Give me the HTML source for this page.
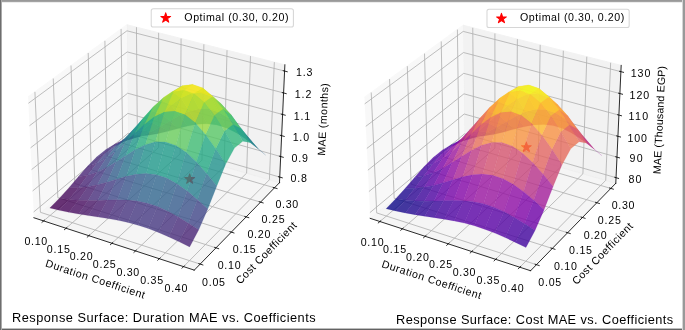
<!DOCTYPE html>
<html><head><meta charset="utf-8"><title>Response Surfaces</title>
<style>
html,body{margin:0;padding:0;background:#fff;}
body{width:685px;height:330px;overflow:hidden;position:relative;font-family:"Liberation Sans",sans-serif;}
#fig{position:absolute;left:0;top:0;width:685px;height:330px;will-change:transform;}
#fig text{font-family:"Liberation Sans",sans-serif;fill:#000;}
.b{position:absolute;}
</style></head><body>
<svg id="fig" width="685" height="330" viewBox="0 0 662.013423 318.926174" preserveAspectRatio="none">
<defs>
  <style type="text/css">*{stroke-linejoin: round; stroke-linecap: butt}</style>
 </defs>
 <g id="figure_1">
  <g id="patch_1">
   <path d="M 0 318.926174 
L 662.013423 318.926174 
L 662.013423 0 
L 0 0 
z
" style="fill: #ffffff"/>
  </g>
  <g id="patch_2">
   <path d="M 11.93557 278.480537 
L 287.855034 278.480537 
L 287.855034 2.561074 
L 11.93557 2.561074 
z
" style="fill: #ffffff"/>
  </g>
  <g id="pane3d_1">
   <g id="patch_3">
    <path d="M 32.769393 210.44764 
L 123.887011 134.071046 
L 122.620388 23.922344 
L 27.142323 93.597887 
" style="fill: #f2f2f2; opacity: 0.5; stroke: #f2f2f2; stroke-linejoin: miter"/>
   </g>
  </g>
  <g id="pane3d_2">
   <g id="patch_4">
    <path d="M 123.887011 134.071046 
L 270.098276 176.568888 
L 275.316041 62.626241 
L 122.620388 23.922344 
" style="fill: #e6e6e6; opacity: 0.5; stroke: #e6e6e6; stroke-linejoin: miter"/>
   </g>
  </g>
  <g id="pane3d_3">
   <g id="patch_5">
    <path d="M 32.769393 210.44764 
L 187.760476 261.067727 
L 270.098276 176.568888 
L 123.887011 134.071046 
" style="fill: #ececec; opacity: 0.5; stroke: #ececec; stroke-linejoin: miter"/>
   </g>
  </g>
  <g id="grid3d_1">
   <g id="Line3DCollection_1">
    <path d="M 42.156466 213.513458 
L 132.779132 136.655634 
L 131.888476 26.271534 
" style="fill: none; stroke: #b0b0b0; stroke-width: 0.8"/>
    <path d="M 63.845604 220.597131 
L 153.306457 142.622117 
L 153.292793 31.696904 
" style="fill: none; stroke: #b0b0b0; stroke-width: 0.8"/>
    <path d="M 85.86489 227.788629 
L 174.120278 148.671874 
L 175.008798 37.201279 
" style="fill: none; stroke: #b0b0b0; stroke-width: 0.8"/>
    <path d="M 108.221917 235.090434 
L 195.226637 154.806659 
L 197.043348 42.786395 
" style="fill: none; stroke: #b0b0b0; stroke-width: 0.8"/>
    <path d="M 130.924518 242.505104 
L 216.631743 161.028278 
L 219.403505 48.454042 
" style="fill: none; stroke: #b0b0b0; stroke-width: 0.8"/>
    <path d="M 153.980767 250.035274 
L 238.341985 167.338588 
L 242.096538 54.206065 
" style="fill: none; stroke: #b0b0b0; stroke-width: 0.8"/>
    <path d="M 177.398992 257.683667 
L 260.363935 173.7395 
L 265.129937 60.04436 
" style="fill: none; stroke: #b0b0b0; stroke-width: 0.8"/>
   </g>
  </g>
  <g id="grid3d_2">
   <g id="Line3DCollection_2">
    <path d="M 33.744868 88.779651 
L 39.048167 205.184647 
L 193.457614 255.221062 
" style="fill: none; stroke: #b0b0b0; stroke-width: 0.8"/>
    <path d="M 51.461748 75.850679 
L 55.912539 191.048596 
L 208.742574 239.534932 
" style="fill: none; stroke: #b0b0b0; stroke-width: 0.8"/>
    <path d="M 68.624006 63.326444 
L 72.271633 177.336078 
L 223.545701 224.343282 
" style="fill: none; stroke: #b0b0b0; stroke-width: 0.8"/>
    <path d="M 85.257286 51.188234 
L 88.147822 164.028342 
L 237.889426 209.623093 
" style="fill: none; stroke: #b0b0b0; stroke-width: 0.8"/>
    <path d="M 101.385673 39.418472 
L 103.562178 151.107724 
L 251.794806 195.352751 
" style="fill: none; stroke: #b0b0b0; stroke-width: 0.8"/>
    <path d="M 117.03181 28.000634 
L 118.534562 138.557574 
L 265.281634 181.511948 
" style="fill: none; stroke: #b0b0b0; stroke-width: 0.8"/>
   </g>
  </g>
  <g id="grid3d_3">
   <g id="Line3DCollection_3">
    <path d="M 270.346384 171.150857 
L 123.826661 128.822877 
L 32.502252 204.900291 
" style="fill: none; stroke: #b0b0b0; stroke-width: 0.8"/>
    <path d="M 271.255616 151.295552 
L 123.605602 109.599074 
L 31.522903 184.563477 
" style="fill: none; stroke: #b0b0b0; stroke-width: 0.8"/>
    <path d="M 272.179124 131.128484 
L 123.38124 90.087906 
L 30.527588 163.89511 
" style="fill: none; stroke: #b0b0b0; stroke-width: 0.8"/>
    <path d="M 273.117248 110.642253 
L 123.153498 70.282881 
L 29.515912 142.887013 
" style="fill: none; stroke: #b0b0b0; stroke-width: 0.8"/>
    <path d="M 274.070337 89.829223 
L 122.9223 50.177311 
L 28.48747 121.530743 
" style="fill: none; stroke: #b0b0b0; stroke-width: 0.8"/>
    <path d="M 275.038753 68.681509 
L 122.687566 29.764301 
L 27.441841 99.81757 
" style="fill: none; stroke: #b0b0b0; stroke-width: 0.8"/>
   </g>
  </g>
  <g id="axis3d_1">
   <g id="line2d_1">
    <path d="M 32.769393 210.44764 
L 187.760476 261.067727 
" style="fill: none; stroke: #000000; stroke-width: 0.8; stroke-linecap: square"/>
   </g>
   <g id="xtick_1">
    <g id="line2d_2">
     <path d="M 42.945603 212.844184 
L 40.574806 214.854877 
" style="fill: none; stroke: #000000; stroke-width: 0.8; stroke-linecap: square"/>
    </g>
    <g id="text_1">
     <text style="font-size:10.300px;text-anchor:middle" x="34.628411" y="236.820531" transform="rotate(-0 34.628411 236.820531)" textLength="22.125" lengthAdjust="spacing">0.10</text>
    </g>
   </g>
   <g id="xtick_2">
    <g id="line2d_3">
     <path d="M 64.625103 219.917712 
L 62.283238 221.958905 
" style="fill: none; stroke: #000000; stroke-width: 0.8; stroke-linecap: square"/>
    </g>
    <g id="text_2">
     <text style="font-size:10.300px;text-anchor:middle" x="56.33882" y="244.048871" transform="rotate(-0 56.33882 244.048871)" textLength="22.250" lengthAdjust="spacing">0.15</text>
    </g>
   </g>
   <g id="xtick_3">
    <g id="line2d_4">
     <path d="M 86.634363 227.098833 
L 84.322591 229.171226 
" style="fill: none; stroke: #000000; stroke-width: 0.8; stroke-linecap: square"/>
    </g>
    <g id="text_3">
     <text style="font-size:10.300px;text-anchor:middle" x="78.380901" y="251.387639" transform="rotate(-0 78.380901 251.387639)" textLength="22.125" lengthAdjust="spacing">0.20</text>
    </g>
   </g>
   <g id="xtick_4">
    <g id="line2d_5">
     <path d="M 108.980965 234.390021 
L 106.700488 236.494336 
" style="fill: none; stroke: #000000; stroke-width: 0.8; stroke-linecap: square"/>
    </g>
    <g id="text_4">
     <text style="font-size:10.300px;text-anchor:middle" x="100.762314" y="258.839385" transform="rotate(-0 100.762314 258.839385)" textLength="22.250" lengthAdjust="spacing">0.25</text>
    </g>
   </g>
   <g id="xtick_5">
    <g id="line2d_6">
     <path d="M 131.672726 241.793826 
L 129.424792 243.930805 
" style="fill: none; stroke: #000000; stroke-width: 0.8; stroke-linecap: square"/>
    </g>
    <g id="text_5">
     <text style="font-size:10.300px;text-anchor:middle" x="123.490957" y="266.406739" transform="rotate(-0 123.490957 266.406739)" textLength="22.000" lengthAdjust="spacing">0.30</text>
    </g>
   </g>
   <g id="xtick_6">
    <g id="line2d_7">
     <path d="M 154.717704 249.312878 
L 152.503608 251.483288 
" style="fill: none; stroke: #000000; stroke-width: 0.8; stroke-linecap: square"/>
    </g>
    <g id="text_6">
     <text style="font-size:10.300px;text-anchor:middle" x="146.574972" y="274.092412" transform="rotate(-0 146.574972 274.092412)" textLength="22.125" lengthAdjust="spacing">0.35</text>
    </g>
   </g>
   <g id="xtick_7">
    <g id="line2d_8">
     <path d="M 178.12421 256.949889 
L 175.945297 259.15452 
" style="fill: none; stroke: #000000; stroke-width: 0.8; stroke-linecap: square"/>
    </g>
    <g id="text_7">
     <text style="font-size:10.300px;text-anchor:middle" x="170.022759" y="281.899201" transform="rotate(-0 170.022759 281.899201)" textLength="22.000" lengthAdjust="spacing">0.40</text>
    </g>
   </g>
   <g id="text_8">
    <text style="font-size:10.300px;text-anchor:middle" x="91.078592" y="272.97508" transform="rotate(-341.912962 91.078592 272.97508)" textLength="100.500" lengthAdjust="spacing">Duration Coefficient</text>
   </g>
  </g>
  <g id="axis3d_2">
   <g id="line2d_9">
    <path d="M 270.098276 176.568888 
L 187.760476 261.067727 
" style="fill: none; stroke: #000000; stroke-width: 0.8; stroke-linecap: square"/>
   </g>
   <g id="xtick_8">
    <g id="line2d_10">
     <path d="M 192.156401 254.799403 
L 196.063405 256.065469 
" style="fill: none; stroke: #000000; stroke-width: 0.8; stroke-linecap: square"/>
    </g>
    <g id="text_9">
     <text style="font-size:10.300px;text-anchor:middle" x="206.337974" y="276.242506" transform="rotate(-0 206.337974 276.242506)" textLength="22.125" lengthAdjust="spacing">0.05</text>
    </g>
   </g>
   <g id="xtick_9">
    <g id="line2d_11">
     <path d="M 207.455715 239.126668 
L 211.319566 240.3525 
" style="fill: none; stroke: #000000; stroke-width: 0.8; stroke-linecap: square"/>
    </g>
    <g id="text_10">
     <text style="font-size:10.300px;text-anchor:middle" x="221.425235" y="260.332384" transform="rotate(-0 221.425235 260.332384)" textLength="22.125" lengthAdjust="spacing">0.10</text>
    </g>
   </g>
   <g id="xtick_10">
    <g id="line2d_12">
     <path d="M 222.272946 223.947784 
L 226.0944 225.13527 
" style="fill: none; stroke: #000000; stroke-width: 0.8; stroke-linecap: square"/>
    </g>
    <g id="text_11">
     <text style="font-size:10.300px;text-anchor:middle" x="236.03663" y="244.924083" transform="rotate(-0 236.03663 244.924083)" textLength="22.250" lengthAdjust="spacing">0.15</text>
    </g>
   </g>
   <g id="xtick_11">
    <g id="line2d_13">
     <path d="M 236.630524 209.23977 
L 240.410333 210.390682 
" style="fill: none; stroke: #000000; stroke-width: 0.8; stroke-linecap: square"/>
    </g>
    <g id="text_12">
     <text style="font-size:10.300px;text-anchor:middle" x="250.194322" y="229.99423" transform="rotate(-0 250.194322 229.99423)" textLength="22.125" lengthAdjust="spacing">0.20</text>
    </g>
   </g>
   <g id="xtick_12">
    <g id="line2d_14">
     <path d="M 250.549513 194.981051 
L 254.288417 196.097053 
" style="fill: none; stroke: #000000; stroke-width: 0.8; stroke-linecap: square"/>
    </g>
    <g id="text_13">
     <text style="font-size:10.300px;text-anchor:middle" x="263.919121" y="215.520879" transform="rotate(-0 263.919121 215.520879)" textLength="22.250" lengthAdjust="spacing">0.25</text>
    </g>
   </g>
   <g id="xtick_13">
    <g id="line2d_15">
     <path d="M 264.049706 181.15135 
L 267.748437 182.234006 
" style="fill: none; stroke: #000000; stroke-width: 0.8; stroke-linecap: square"/>
    </g>
    <g id="text_14">
     <text style="font-size:10.300px;text-anchor:middle" x="277.230582" y="201.48341" transform="rotate(-0 277.230582 201.48341)" textLength="22.000" lengthAdjust="spacing">0.30</text>
    </g>
   </g>
   <g id="text_15">
    <text style="font-size:10.300px;text-anchor:middle" x="259.717958" y="246.862403" transform="rotate(-45.742112 259.717958 246.862403)" textLength="79.000" lengthAdjust="spacing">Cost Coefficient</text>
   </g>
  </g>
  <g id="axis3d_3">
   <g id="line2d_16">
    <path d="M 270.098276 176.568888 
L 275.316041 62.626241 
" style="fill: none; stroke: #000000; stroke-width: 0.8; stroke-linecap: square"/>
   </g>
   <g id="xtick_14">
    <g id="line2d_17">
     <path d="M 269.116557 170.795573 
L 272.808968 171.862271 
" style="fill: none; stroke: #000000; stroke-width: 0.8; stroke-linecap: square"/>
    </g>
    <g id="text_16">
     <text style="font-size:10.300px;text-anchor:middle" x="288.635013" y="176.154188" transform="rotate(-0 288.635013 176.154188)" textLength="15.750" lengthAdjust="spacing">0.8</text>
    </g>
   </g>
   <g id="xtick_15">
    <g id="line2d_18">
     <path d="M 270.015849 150.945441 
L 273.738126 151.996614 
" style="fill: none; stroke: #000000; stroke-width: 0.8; stroke-linecap: square"/>
    </g>
    <g id="text_17">
     <text style="font-size:10.300px;text-anchor:middle" x="289.683636" y="156.336716" transform="rotate(-0 289.683636 156.336716)" textLength="15.875" lengthAdjust="spacing">0.9</text>
    </g>
   </g>
   <g id="xtick_16">
    <g id="line2d_19">
     <path d="M 270.929257 130.783752 
L 274.681886 131.818781 
" style="fill: none; stroke: #000000; stroke-width: 0.8; stroke-linecap: square"/>
    </g>
    <g id="text_18">
     <text style="font-size:10.300px;text-anchor:middle" x="290.748676" y="136.208992" transform="rotate(-0 290.748676 136.208992)" textLength="15.875" lengthAdjust="spacing">1.0</text>
    </g>
   </g>
   <g id="xtick_17">
    <g id="line2d_20">
     <path d="M 271.857113 110.303116 
L 275.640593 111.321355 
" style="fill: none; stroke: #000000; stroke-width: 0.8; stroke-linecap: square"/>
    </g>
    <g id="text_19">
     <text style="font-size:10.300px;text-anchor:middle" x="291.830521" y="115.763672" transform="rotate(-0 291.830521 115.763672)" textLength="16.000" lengthAdjust="spacing">1.1</text>
    </g>
   </g>
   <g id="xtick_18">
    <g id="line2d_21">
     <path d="M 272.799765 89.495903 
L 276.614606 90.496682 
" style="fill: none; stroke: #000000; stroke-width: 0.8; stroke-linecap: square"/>
    </g>
    <g id="text_20">
     <text style="font-size:10.300px;text-anchor:middle" x="292.929573" y="94.993181" transform="rotate(-0 292.929573 94.993181)" textLength="16.000" lengthAdjust="spacing">1.2</text>
    </g>
   </g>
   <g id="xtick_19">
    <g id="line2d_22">
     <path d="M 273.757569 68.354239 
L 277.604295 69.336862 
" style="fill: none; stroke: #000000; stroke-width: 0.8; stroke-linecap: square"/>
    </g>
    <g id="text_21">
     <text style="font-size:10.300px;text-anchor:middle" x="294.046244" y="73.889697" transform="rotate(-0 294.046244 73.889697)" textLength="15.875" lengthAdjust="spacing">1.3</text>
    </g>
   </g>
   <g id="text_22">
    <text style="font-size:10.300px;text-anchor:middle" x="315.791818" y="115.561315" transform="rotate(-87.378092 315.791818 115.561315)" textLength="70.125" lengthAdjust="spacing">MAE (months)</text>
   </g>
  </g>
  <g id="axes_1">
   <g id="Path3DCollection_1">
    <defs>
     <path id="m5a079813dc" d="M 0 -5 
L -1.12257 -1.545085 
L -4.755283 -1.545085 
L -1.816356 0.59017 
L -2.938926 4.045085 
L -0 1.90983 
L 2.938926 4.045085 
L 1.816356 0.59017 
L 4.755283 -1.545085 
L 1.12257 -1.545085 
z
" style="stroke: #ff0000"/>
    </defs>
    <g clip-path="url(#pc251fb903a)">
     <use href="#m5a079813dc" x="183.303046" y="173.089933" style="fill: #ff0000; stroke: #ff0000"/>
    </g>
   </g>
   <g id="Poly3DCollection_1">
    <path d="M 119.066355 135.212549 
L 127.910367 133.840768 
L 136.164777 131.09459 
L 127.35445 131.052434 
z
" clip-path="url(#pc251fb903a)" style="fill:#481467;fill-opacity:0.8;stroke:#481467;stroke-opacity:0.25;stroke-width:0.5"/>
    <path d="M 127.910367 133.840768 
L 136.827197 131.213919 
L 145.042545 130.350816 
L 136.164777 131.09459 
z
" clip-path="url(#pc251fb903a)" style="fill:#482374;fill-opacity:0.8;stroke:#482374;stroke-opacity:0.25;stroke-width:0.5"/>
    <path d="M 136.827197 131.213919 
L 145.830976 127.34379 
L 153.996747 128.832223 
L 145.042545 130.350816 
z
" clip-path="url(#pc251fb903a)" style="fill:#46337f;fill-opacity:0.8;stroke:#46337f;stroke-opacity:0.25;stroke-width:0.5"/>
    <path d="M 110.625858 139.500631 
L 119.49434 136.718944 
L 127.910367 133.840768 
L 119.066355 135.212549 
z
" clip-path="url(#pc251fb903a)" style="fill:#482173;fill-opacity:0.8;stroke:#482173;stroke-opacity:0.25;stroke-width:0.5"/>
    <path d="M 145.830976 127.34379 
L 154.935792 122.454557 
L 163.035876 126.684564 
L 153.996747 128.832223 
z
" clip-path="url(#pc251fb903a)" style="fill:#404688;fill-opacity:0.8;stroke:#404688;stroke-opacity:0.25;stroke-width:0.5"/>
    <path d="M 119.49434 136.718944 
L 128.438014 132.208934 
L 136.827197 131.213919 
L 127.910367 133.840768 
z
" clip-path="url(#pc251fb903a)" style="fill:#463480;fill-opacity:0.8;stroke:#463480;stroke-opacity:0.25;stroke-width:0.5"/>
    <path d="M 102.046993 144.80799 
L 110.935106 141.089059 
L 119.49434 136.718944 
L 110.625858 139.500631 
z
" clip-path="url(#pc251fb903a)" style="fill:#472c7a;fill-opacity:0.8;stroke:#472c7a;stroke-opacity:0.25;stroke-width:0.5"/>
    <path d="M 154.935792 122.454557 
L 164.151785 117.019191 
L 172.165411 124.20944 
L 163.035876 126.684564 
z
" clip-path="url(#pc251fb903a)" style="fill:#38598c;fill-opacity:0.8;stroke:#38598c;stroke-opacity:0.25;stroke-width:0.5"/>
    <path d="M 128.438014 132.208934 
L 137.476248 125.978813 
L 145.830976 127.34379 
L 136.827197 131.213919 
z
" clip-path="url(#pc251fb903a)" style="fill:#3e4a89;fill-opacity:0.8;stroke:#3e4a89;stroke-opacity:0.25;stroke-width:0.5"/>
    <path d="M 110.935106 141.089059 
L 119.896353 135.319376 
L 128.438014 132.208934 
L 119.49434 136.718944 
z
" clip-path="url(#pc251fb903a)" style="fill:#414287;fill-opacity:0.8;stroke:#414287;stroke-opacity:0.25;stroke-width:0.5"/>
    <path d="M 164.151785 117.019191 
L 173.480769 111.74347 
L 181.385147 121.852025 
L 172.165411 124.20944 
z
" clip-path="url(#pc251fb903a)" style="fill:#2f6b8e;fill-opacity:0.8;stroke:#2f6b8e;stroke-opacity:0.25;stroke-width:0.5"/>
    <path d="M 137.476248 125.978813 
L 146.629392 118.326716 
L 154.935792 122.454557 
L 145.830976 127.34379 
z
" clip-path="url(#pc251fb903a)" style="fill:#33628d;fill-opacity:0.8;stroke:#33628d;stroke-opacity:0.25;stroke-width:0.5"/>
    <path d="M 93.351759 151.850044 
L 102.264172 148.045604 
L 110.935106 141.089059 
L 102.046993 144.80799 
z
" clip-path="url(#pc251fb903a)" style="fill:#472f7d;fill-opacity:0.8;stroke:#472f7d;stroke-opacity:0.25;stroke-width:0.5"/>
    <path d="M 119.896353 135.319376 
L 128.953742 127.502251 
L 137.476248 125.978813 
L 128.438014 132.208934 
z
" clip-path="url(#pc251fb903a)" style="fill:#365c8d;fill-opacity:0.8;stroke:#365c8d;stroke-opacity:0.25;stroke-width:0.5"/>
    <path d="M 173.480769 111.74347 
L 182.912838 107.48326 
L 190.687311 120.147469 
L 181.385147 121.852025 
z
" clip-path="url(#pc251fb903a)" style="fill:#297a8e;fill-opacity:0.8;stroke:#297a8e;stroke-opacity:0.25;stroke-width:0.5"/>
    <path d="M 146.629392 118.326716 
L 155.913564 109.894435 
L 164.151785 117.019191 
L 154.935792 122.454557 
z
" clip-path="url(#pc251fb903a)" style="fill:#297a8e;fill-opacity:0.8;stroke:#297a8e;stroke-opacity:0.25;stroke-width:0.5"/>
    <path d="M 102.264172 148.045604 
L 111.244004 142.147598 
L 119.896353 135.319376 
L 110.935106 141.089059 
z
" clip-path="url(#pc251fb903a)" style="fill:#3f4889;fill-opacity:0.8;stroke:#3f4889;stroke-opacity:0.25;stroke-width:0.5"/>
    <path d="M 84.555943 160.730065 
L 93.506782 157.745575 
L 102.264172 148.045604 
L 93.351759 151.850044 
z
" clip-path="url(#pc251fb903a)" style="fill:#472d7b;fill-opacity:0.8;stroke:#472d7b;stroke-opacity:0.25;stroke-width:0.5"/>
    <path d="M 182.912838 107.48326 
L 192.425574 105.10019 
L 200.056428 119.630607 
L 190.687311 120.147469 
z
" clip-path="url(#pc251fb903a)" style="fill:#24868e;fill-opacity:0.8;stroke:#24868e;stroke-opacity:0.25;stroke-width:0.5"/>
    <path d="M 128.953742 127.502251 
L 138.132654 117.983198 
L 146.629392 118.326716 
L 137.476248 125.978813 
z
" clip-path="url(#pc251fb903a)" style="fill:#2a778e;fill-opacity:0.8;stroke:#2a778e;stroke-opacity:0.25;stroke-width:0.5"/>
    <path d="M 155.913564 109.894435 
L 165.334469 101.650381 
L 173.480769 111.74347 
L 164.151785 117.019191 
z
" clip-path="url(#pc251fb903a)" style="fill:#20928c;fill-opacity:0.8;stroke:#20928c;stroke-opacity:0.25;stroke-width:0.5"/>
    <path d="M 192.425574 105.10019 
L 201.986942 105.285768 
L 209.47148 120.728249 
L 200.056428 119.630607 
z
" clip-path="url(#pc251fb903a)" style="fill:#218e8d;fill-opacity:0.8;stroke:#218e8d;stroke-opacity:0.25;stroke-width:0.5"/>
    <path d="M 111.244004 142.147598 
L 120.314916 134.158399 
L 128.953742 127.502251 
L 119.896353 135.319376 
z
" clip-path="url(#pc251fb903a)" style="fill:#33638d;fill-opacity:0.8;stroke:#33638d;stroke-opacity:0.25;stroke-width:0.5"/>
    <path d="M 93.506782 157.745575 
L 102.518353 152.922885 
L 111.244004 142.147598 
L 102.264172 148.045604 
z
" clip-path="url(#pc251fb903a)" style="fill:#414487;fill-opacity:0.8;stroke:#414487;stroke-opacity:0.25;stroke-width:0.5"/>
    <path d="M 75.656688 170.87386 
L 84.66333 169.307397 
L 93.506782 157.745575 
L 84.555943 160.730065 
z
" clip-path="url(#pc251fb903a)" style="fill:#482475;fill-opacity:0.8;stroke:#482475;stroke-opacity:0.25;stroke-width:0.5"/>
    <path d="M 201.986942 105.285768 
L 211.561658 108.403521 
L 218.910121 123.663945 
L 209.47148 120.728249 
z
" clip-path="url(#pc251fb903a)" style="fill:#21908d;fill-opacity:0.8;stroke:#21908d;stroke-opacity:0.25;stroke-width:0.5"/>
    <path d="M 138.132654 117.983198 
L 147.454859 107.516655 
L 155.913564 109.894435 
L 146.629392 118.326716 
z
" clip-path="url(#pc251fb903a)" style="fill:#1f948c;fill-opacity:0.8;stroke:#1f948c;stroke-opacity:0.25;stroke-width:0.5"/>
    <path d="M 211.561658 108.403521 
L 221.119353 114.400925 
L 228.353801 128.405349 
L 218.910121 123.663945 
z
" clip-path="url(#pc251fb903a)" style="fill:#228c8d;fill-opacity:0.8;stroke:#228c8d;stroke-opacity:0.25;stroke-width:0.5"/>
    <path d="M 165.334469 101.650381 
L 174.882186 94.779309 
L 182.912838 107.48326 
L 173.480769 111.74347 
z
" clip-path="url(#pc251fb903a)" style="fill:#22a884;fill-opacity:0.8;stroke:#22a884;stroke-opacity:0.25;stroke-width:0.5"/>
    <path d="M 120.314916 134.158399 
L 129.504176 124.429518 
L 138.132654 117.983198 
L 128.953742 127.502251 
z
" clip-path="url(#pc251fb903a)" style="fill:#26818e;fill-opacity:0.8;stroke:#26818e;stroke-opacity:0.25;stroke-width:0.5"/>
    <path d="M 221.119353 114.400925 
L 230.641867 122.822277 
L 237.792212 134.671945 
L 228.353801 128.405349 
z
" clip-path="url(#pc251fb903a)" style="fill:#26828e;fill-opacity:0.8;stroke:#26828e;stroke-opacity:0.25;stroke-width:0.5"/>
    <path d="M 102.518353 152.922885 
L 111.611766 146.268432 
L 120.314916 134.158399 
L 111.244004 142.147598 
z
" clip-path="url(#pc251fb903a)" style="fill:#355f8d;fill-opacity:0.8;stroke:#355f8d;stroke-opacity:0.25;stroke-width:0.5"/>
    <path d="M 84.66333 169.307397 
L 93.725823 166.351451 
L 102.518353 152.922885 
L 93.506782 157.745575 
z
" clip-path="url(#pc251fb903a)" style="fill:#453882;fill-opacity:0.8;stroke:#453882;stroke-opacity:0.25;stroke-width:0.5"/>
    <path d="M 230.641867 122.822277 
L 240.127227 132.917914 
L 247.225562 142.000509 
L 237.792212 134.671945 
z
" clip-path="url(#pc251fb903a)" style="fill:#2b758e;fill-opacity:0.8;stroke:#2b758e;stroke-opacity:0.25;stroke-width:0.5"/>
    <path d="M 240.127227 132.917914 
L 249.589151 143.811715 
L 256.664051 149.846479 
L 247.225562 142.000509 
z
" clip-path="url(#pc251fb903a)" style="fill:#32658e;fill-opacity:0.8;stroke:#32658e;stroke-opacity:0.25;stroke-width:0.5"/>
    <path d="M 66.632587 181.39286 
L 75.707755 181.370893 
L 84.66333 169.307397 
L 75.656688 170.87386 
z
" clip-path="url(#pc251fb903a)" style="fill:#481769;fill-opacity:0.8;stroke:#481769;stroke-opacity:0.25;stroke-width:0.5"/>
    <path d="M 174.882186 94.779309 
L 184.529267 90.482786 
L 192.425574 105.10019 
L 182.912838 107.48326 
z
" clip-path="url(#pc251fb903a)" style="fill:#37b878;fill-opacity:0.8;stroke:#37b878;stroke-opacity:0.25;stroke-width:0.5"/>
    <path d="M 147.454859 107.516655 
L 156.931038 97.249812 
L 165.334469 101.650381 
L 155.913564 109.894435 
z
" clip-path="url(#pc251fb903a)" style="fill:#2db27d;fill-opacity:0.8;stroke:#2db27d;stroke-opacity:0.25;stroke-width:0.5"/>
    <path d="M 93.725823 166.351451 
L 102.860571 162.01688 
L 111.611766 146.268432 
L 102.518353 152.922885 
z
" clip-path="url(#pc251fb903a)" style="fill:#3c4f8a;fill-opacity:0.8;stroke:#3c4f8a;stroke-opacity:0.25;stroke-width:0.5"/>
    <path d="M 75.707755 181.370893 
L 84.836929 180.444106 
L 93.725823 166.351451 
L 84.66333 169.307397 
z
" clip-path="url(#pc251fb903a)" style="fill:#482677;fill-opacity:0.8;stroke:#482677;stroke-opacity:0.25;stroke-width:0.5"/>
    <path d="M 111.611766 146.268432 
L 120.812307 138.096544 
L 129.504176 124.429518 
L 120.314916 134.158399 
z
" clip-path="url(#pc251fb903a)" style="fill:#297b8e;fill-opacity:0.8;stroke:#297b8e;stroke-opacity:0.25;stroke-width:0.5"/>
    <path d="M 129.504176 124.429518 
L 138.83674 113.730194 
L 147.454859 107.516655 
L 138.132654 117.983198 
z
" clip-path="url(#pc251fb903a)" style="fill:#1fa188;fill-opacity:0.8;stroke:#1fa188;stroke-opacity:0.25;stroke-width:0.5"/>
    <path d="M 184.529267 90.482786 
L 194.2339 89.730677 
L 201.986942 105.285768 
L 192.425574 105.10019 
z
" clip-path="url(#pc251fb903a)" style="fill:#4cc26c;fill-opacity:0.8;stroke:#4cc26c;stroke-opacity:0.25;stroke-width:0.5"/>
    <path d="M 57.455687 191.567329 
L 66.603399 192.838122 
L 75.707755 181.370893 
L 66.632587 181.39286 
z
" clip-path="url(#pc251fb903a)" style="fill:#460a5d;fill-opacity:0.8;stroke:#460a5d;stroke-opacity:0.25;stroke-width:0.5"/>
    <path d="M 84.836929 180.444106 
L 94.031273 178.623978 
L 102.860571 162.01688 
L 93.725823 166.351451 
z
" clip-path="url(#pc251fb903a)" style="fill:#453882;fill-opacity:0.8;stroke:#453882;stroke-opacity:0.25;stroke-width:0.5"/>
    <path d="M 194.2339 89.730677 
L 203.948175 93.034772 
L 211.561658 108.403521 
L 201.986942 105.285768 
z
" clip-path="url(#pc251fb903a)" style="fill:#52c569;fill-opacity:0.8;stroke:#52c569;stroke-opacity:0.25;stroke-width:0.5"/>
    <path d="M 156.931038 97.249812 
L 166.554015 88.594697 
L 174.882186 94.779309 
L 165.334469 101.650381 
z
" clip-path="url(#pc251fb903a)" style="fill:#60ca60;fill-opacity:0.8;stroke:#60ca60;stroke-opacity:0.25;stroke-width:0.5"/>
    <path d="M 102.860571 162.01688 
L 112.087901 156.549293 
L 120.812307 138.096544 
L 111.611766 146.268432 
z
" clip-path="url(#pc251fb903a)" style="fill:#31688e;fill-opacity:0.8;stroke:#31688e;stroke-opacity:0.25;stroke-width:0.5"/>
    <path d="M 66.603399 192.838122 
L 75.805816 193.602861 
L 84.836929 180.444106 
L 75.707755 181.370893 
z
" clip-path="url(#pc251fb903a)" style="fill:#481467;fill-opacity:0.8;stroke:#481467;stroke-opacity:0.25;stroke-width:0.5"/>
    <path d="M 203.948175 93.034772 
L 213.629276 100.321316 
L 221.119353 114.400925 
L 211.561658 108.403521 
z
" clip-path="url(#pc251fb903a)" style="fill:#46c06f;fill-opacity:0.8;stroke:#46c06f;stroke-opacity:0.25;stroke-width:0.5"/>
    <path d="M 120.812307 138.096544 
L 130.144361 129.087683 
L 138.83674 113.730194 
L 129.504176 124.429518 
z
" clip-path="url(#pc251fb903a)" style="fill:#1f988b;fill-opacity:0.8;stroke:#1f988b;stroke-opacity:0.25;stroke-width:0.5"/>
    <path d="M 232.804138 123.869354 
L 242.307576 137.860745 
L 249.589151 143.811715 
L 240.127227 132.917914 
z
" clip-path="url(#pc251fb903a)" style="fill:#238a8d;fill-opacity:0.8;stroke:#238a8d;stroke-opacity:0.25;stroke-width:0.5"/>
    <path d="M 138.83674 113.730194 
L 148.327497 103.231506 
L 156.931038 97.249812 
L 147.454859 107.516655 
z
" clip-path="url(#pc251fb903a)" style="fill:#44bf70;fill-opacity:0.8;stroke:#44bf70;stroke-opacity:0.25;stroke-width:0.5"/>
    <path d="M 213.629276 100.321316 
L 223.249874 110.949546 
L 230.641867 122.822277 
L 221.119353 114.400925 
z
" clip-path="url(#pc251fb903a)" style="fill:#2fb47c;fill-opacity:0.8;stroke:#2fb47c;stroke-opacity:0.25;stroke-width:0.5"/>
    <path d="M 223.249874 110.949546 
L 232.804138 123.869354 
L 240.127227 132.917914 
L 230.641867 122.822277 
z
" clip-path="url(#pc251fb903a)" style="fill:#1fa188;fill-opacity:0.8;stroke:#1fa188;stroke-opacity:0.25;stroke-width:0.5"/>
    <path d="M 48.104666 201.101473 
L 57.321655 203.259714 
L 66.603399 192.838122 
L 57.455687 191.567329 
z
" clip-path="url(#pc251fb903a)" style="fill:#440154;fill-opacity:0.8;stroke:#440154;stroke-opacity:0.25;stroke-width:0.5"/>
    <path d="M 94.031273 178.623978 
L 103.305034 176.076822 
L 112.087901 156.549293 
L 102.860571 162.01688 
z
" clip-path="url(#pc251fb903a)" style="fill:#3e4c8a;fill-opacity:0.8;stroke:#3e4c8a;stroke-opacity:0.25;stroke-width:0.5"/>
    <path d="M 75.805816 193.602861 
L 85.06966 193.870196 
L 94.031273 178.623978 
L 84.836929 180.444106 
z
" clip-path="url(#pc251fb903a)" style="fill:#482071;fill-opacity:0.8;stroke:#482071;stroke-opacity:0.25;stroke-width:0.5"/>
    <path d="M 166.554015 88.594697 
L 176.295565 82.99066 
L 184.529267 90.482786 
L 174.882186 94.779309 
z
" clip-path="url(#pc251fb903a)" style="fill:#98d83e;fill-opacity:0.8;stroke:#98d83e;stroke-opacity:0.25;stroke-width:0.5"/>
    <path d="M 112.087901 156.549293 
L 121.428273 150.470383 
L 130.144361 129.087683 
L 120.812307 138.096544 
z
" clip-path="url(#pc251fb903a)" style="fill:#26818e;fill-opacity:0.8;stroke:#26818e;stroke-opacity:0.25;stroke-width:0.5"/>
    <path d="M 57.321655 203.259714 
L 66.595301 205.178344 
L 75.805816 193.602861 
L 66.603399 192.838122 
z
" clip-path="url(#pc251fb903a)" style="fill:#450559;fill-opacity:0.8;stroke:#450559;stroke-opacity:0.25;stroke-width:0.5"/>
    <path d="M 85.06966 193.870196 
L 94.403712 193.737194 
L 103.305034 176.076822 
L 94.031273 178.623978 
z
" clip-path="url(#pc251fb903a)" style="fill:#472e7c;fill-opacity:0.8;stroke:#472e7c;stroke-opacity:0.25;stroke-width:0.5"/>
    <path d="M 130.144361 129.087683 
L 139.624496 120.271742 
L 148.327497 103.231506 
L 138.83674 113.730194 
z
" clip-path="url(#pc251fb903a)" style="fill:#34b679;fill-opacity:0.8;stroke:#34b679;stroke-opacity:0.25;stroke-width:0.5"/>
    <path d="M 103.305034 176.076822 
L 112.673081 173.148852 
L 121.428273 150.470383 
L 112.087901 156.549293 
z
" clip-path="url(#pc251fb903a)" style="fill:#34608d;fill-opacity:0.8;stroke:#34608d;stroke-opacity:0.25;stroke-width:0.5"/>
    <path d="M 148.327497 103.231506 
L 157.973858 94.37624 
L 166.554015 88.594697 
L 156.931038 97.249812 
z
" clip-path="url(#pc251fb903a)" style="fill:#8bd646;fill-opacity:0.8;stroke:#8bd646;stroke-opacity:0.25;stroke-width:0.5"/>
    <path d="M 66.595301 205.178344 
L 75.929277 206.862407 
L 85.06966 193.870196 
L 75.805816 193.602861 
z
" clip-path="url(#pc251fb903a)" style="fill:#470d60;fill-opacity:0.8;stroke:#470d60;stroke-opacity:0.25;stroke-width:0.5"/>
    <path d="M 176.295565 82.99066 
L 186.109171 81.60409 
L 194.2339 89.730677 
L 184.529267 90.482786 
z
" clip-path="url(#pc251fb903a)" style="fill:#c0df25;fill-opacity:0.8;stroke:#c0df25;stroke-opacity:0.25;stroke-width:0.5"/>
    <path d="M 121.428273 150.470383 
L 130.896952 144.561566 
L 139.624496 120.271742 
L 130.144361 129.087683 
z
" clip-path="url(#pc251fb903a)" style="fill:#1f998a;fill-opacity:0.8;stroke:#1f998a;stroke-opacity:0.25;stroke-width:0.5"/>
    <path d="M 94.403712 193.737194 
L 103.817426 193.40261 
L 112.673081 173.148852 
L 103.305034 176.076822 
z
" clip-path="url(#pc251fb903a)" style="fill:#433d84;fill-opacity:0.8;stroke:#433d84;stroke-opacity:0.25;stroke-width:0.5"/>
    <path d="M 75.929277 206.862407 
L 85.328434 208.360684 
L 94.403712 193.737194 
L 85.06966 193.870196 
z
" clip-path="url(#pc251fb903a)" style="fill:#481668;fill-opacity:0.8;stroke:#481668;stroke-opacity:0.25;stroke-width:0.5"/>
    <path d="M 186.109171 81.60409 
L 195.939105 85.052101 
L 203.948175 93.034772 
L 194.2339 89.730677 
z
" clip-path="url(#pc251fb903a)" style="fill:#c8e020;fill-opacity:0.8;stroke:#c8e020;stroke-opacity:0.25;stroke-width:0.5"/>
    <path d="M 225.099252 120.29393 
L 234.673867 136.42635 
L 242.307576 137.860745 
L 232.804138 123.869354 
z
" clip-path="url(#pc251fb903a)" style="fill:#23a983;fill-opacity:0.8;stroke:#23a983;stroke-opacity:0.25;stroke-width:0.5"/>
    <path d="M 112.673081 173.148852 
L 122.147332 170.352815 
L 130.896952 144.561566 
L 121.428273 150.470383 
z
" clip-path="url(#pc251fb903a)" style="fill:#2c728e;fill-opacity:0.8;stroke:#2c728e;stroke-opacity:0.25;stroke-width:0.5"/>
    <path d="M 195.939105 85.052101 
L 205.733529 93.245969 
L 213.629276 100.321316 
L 203.948175 93.034772 
z
" clip-path="url(#pc251fb903a)" style="fill:#b5de2b;fill-opacity:0.8;stroke:#b5de2b;stroke-opacity:0.25;stroke-width:0.5"/>
    <path d="M 215.457191 105.413826 
L 225.099252 120.29393 
L 232.804138 123.869354 
L 223.249874 110.949546 
z
" clip-path="url(#pc251fb903a)" style="fill:#4ec36b;fill-opacity:0.8;stroke:#4ec36b;stroke-opacity:0.25;stroke-width:0.5"/>
    <path d="M 139.624496 120.271742 
L 149.254585 112.911741 
L 157.973858 94.37624 
L 148.327497 103.231506 
z
" clip-path="url(#pc251fb903a)" style="fill:#6ece58;fill-opacity:0.8;stroke:#6ece58;stroke-opacity:0.25;stroke-width:0.5"/>
    <path d="M 157.973858 94.37624 
L 167.751652 88.636255 
L 176.295565 82.99066 
L 166.554015 88.594697 
z
" clip-path="url(#pc251fb903a)" style="fill:#cde11d;fill-opacity:0.8;stroke:#cde11d;stroke-opacity:0.25;stroke-width:0.5"/>
    <path d="M 205.733529 93.245969 
L 215.457191 105.413826 
L 223.249874 110.949546 
L 213.629276 100.321316 
z
" clip-path="url(#pc251fb903a)" style="fill:#86d549;fill-opacity:0.8;stroke:#86d549;stroke-opacity:0.25;stroke-width:0.5"/>
    <path d="M 103.817426 193.40261 
L 113.318843 193.158056 
L 122.147332 170.352815 
L 112.673081 173.148852 
z
" clip-path="url(#pc251fb903a)" style="fill:#3e4a89;fill-opacity:0.8;stroke:#3e4a89;stroke-opacity:0.25;stroke-width:0.5"/>
    <path d="M 85.328434 208.360684 
L 94.798123 209.771905 
L 103.817426 193.40261 
L 94.403712 193.737194 
z
" clip-path="url(#pc251fb903a)" style="fill:#481d6f;fill-opacity:0.8;stroke:#481d6f;stroke-opacity:0.25;stroke-width:0.5"/>
    <path d="M 130.896952 144.561566 
L 140.498521 139.77327 
L 149.254585 112.911741 
L 139.624496 120.271742 
z
" clip-path="url(#pc251fb903a)" style="fill:#2ab07f;fill-opacity:0.8;stroke:#2ab07f;stroke-opacity:0.25;stroke-width:0.5"/>
    <path d="M 122.147332 170.352815 
L 131.732984 168.306777 
L 140.498521 139.77327 
L 130.896952 144.561566 
z
" clip-path="url(#pc251fb903a)" style="fill:#25838e;fill-opacity:0.8;stroke:#25838e;stroke-opacity:0.25;stroke-width:0.5"/>
    <path d="M 167.751652 88.636255 
L 177.61692 87.205031 
L 186.109171 81.60409 
L 176.295565 82.99066 
z
" clip-path="url(#pc251fb903a)" style="fill:#f4e61e;fill-opacity:0.8;stroke:#f4e61e;stroke-opacity:0.25;stroke-width:0.5"/>
    <path d="M 94.798123 209.771905 
L 104.343142 211.239993 
L 113.318843 193.158056 
L 103.817426 193.40261 
z
" clip-path="url(#pc251fb903a)" style="fill:#482677;fill-opacity:0.8;stroke:#482677;stroke-opacity:0.25;stroke-width:0.5"/>
    <path d="M 113.318843 193.158056 
L 122.912333 193.352424 
L 131.732984 168.306777 
L 122.147332 170.352815 
z
" clip-path="url(#pc251fb903a)" style="fill:#39558c;fill-opacity:0.8;stroke:#39558c;stroke-opacity:0.25;stroke-width:0.5"/>
    <path d="M 149.254585 112.911741 
L 159.017552 108.291236 
L 167.751652 88.636255 
L 157.973858 94.37624 
z
" clip-path="url(#pc251fb903a)" style="fill:#aadc32;fill-opacity:0.8;stroke:#aadc32;stroke-opacity:0.25;stroke-width:0.5"/>
    <path d="M 216.945304 126.680547 
L 226.618788 143.145135 
L 234.673867 136.42635 
L 225.099252 120.29393 
z
" clip-path="url(#pc251fb903a)" style="fill:#32b67a;fill-opacity:0.8;stroke:#32b67a;stroke-opacity:0.25;stroke-width:0.5"/>
    <path d="M 140.498521 139.77327 
L 150.223243 137.064761 
L 159.017552 108.291236 
L 149.254585 112.911741 
z
" clip-path="url(#pc251fb903a)" style="fill:#4ac16d;fill-opacity:0.8;stroke:#4ac16d;stroke-opacity:0.25;stroke-width:0.5"/>
    <path d="M 177.61692 87.205031 
L 187.514346 90.714318 
L 195.939105 85.052101 
L 186.109171 81.60409 
z
" clip-path="url(#pc251fb903a)" style="fill:#fde725;fill-opacity:0.8;stroke:#fde725;stroke-opacity:0.25;stroke-width:0.5"/>
    <path d="M 131.732984 168.306777 
L 141.42584 167.629876 
L 150.223243 137.064761 
L 140.498521 139.77327 
z
" clip-path="url(#pc251fb903a)" style="fill:#21918c;fill-opacity:0.8;stroke:#21918c;stroke-opacity:0.25;stroke-width:0.5"/>
    <path d="M 104.343142 211.239993 
L 113.966553 212.936264 
L 122.912333 193.352424 
L 113.318843 193.158056 
z
" clip-path="url(#pc251fb903a)" style="fill:#472e7c;fill-opacity:0.8;stroke:#472e7c;stroke-opacity:0.25;stroke-width:0.5"/>
    <path d="M 207.205684 111.492418 
L 216.945304 126.680547 
L 225.099252 120.29393 
L 215.457191 105.413826 
z
" clip-path="url(#pc251fb903a)" style="fill:#73d056;fill-opacity:0.8;stroke:#73d056;stroke-opacity:0.25;stroke-width:0.5"/>
    <path d="M 122.912333 193.352424 
L 132.596914 194.333035 
L 141.42584 167.629876 
L 131.732984 168.306777 
z
" clip-path="url(#pc251fb903a)" style="fill:#355f8d;fill-opacity:0.8;stroke:#355f8d;stroke-opacity:0.25;stroke-width:0.5"/>
    <path d="M 187.514346 90.714318 
L 197.390235 99.073412 
L 205.733529 93.245969 
L 195.939105 85.052101 
z
" clip-path="url(#pc251fb903a)" style="fill:#eae51a;fill-opacity:0.8;stroke:#eae51a;stroke-opacity:0.25;stroke-width:0.5"/>
    <path d="M 197.390235 99.073412 
L 207.205684 111.492418 
L 215.457191 105.413826 
L 205.733529 93.245969 
z
" clip-path="url(#pc251fb903a)" style="fill:#b8de29;fill-opacity:0.8;stroke:#b8de29;stroke-opacity:0.25;stroke-width:0.5"/>
    <path d="M 159.017552 108.291236 
L 168.878131 107.447962 
L 177.61692 87.205031 
L 167.751652 88.636255 
z
" clip-path="url(#pc251fb903a)" style="fill:#d0e11c;fill-opacity:0.8;stroke:#d0e11c;stroke-opacity:0.25;stroke-width:0.5"/>
    <path d="M 113.966553 212.936264 
L 123.668764 215.03055 
L 132.596914 194.333035 
L 122.912333 193.352424 
z
" clip-path="url(#pc251fb903a)" style="fill:#46337f;fill-opacity:0.8;stroke:#46337f;stroke-opacity:0.25;stroke-width:0.5"/>
    <path d="M 150.223243 137.064761 
L 160.047055 137.20748 
L 168.878131 107.447962 
L 159.017552 108.291236 
z
" clip-path="url(#pc251fb903a)" style="fill:#63cb5f;fill-opacity:0.8;stroke:#63cb5f;stroke-opacity:0.25;stroke-width:0.5"/>
    <path d="M 141.42584 167.629876 
L 151.211967 168.817139 
L 160.047055 137.20748 
L 150.223243 137.064761 
z
" clip-path="url(#pc251fb903a)" style="fill:#1f988b;fill-opacity:0.8;stroke:#1f988b;stroke-opacity:0.25;stroke-width:0.5"/>
    <path d="M 132.596914 194.333035 
L 142.365846 196.376258 
L 151.211967 168.817139 
L 141.42584 167.629876 
z
" clip-path="url(#pc251fb903a)" style="fill:#32658e;fill-opacity:0.8;stroke:#32658e;stroke-opacity:0.25;stroke-width:0.5"/>
    <path d="M 168.878131 107.447962 
L 178.789467 110.93021 
L 187.514346 90.714318 
L 177.61692 87.205031 
z
" clip-path="url(#pc251fb903a)" style="fill:#dae319;fill-opacity:0.8;stroke:#dae319;stroke-opacity:0.25;stroke-width:0.5"/>
    <path d="M 208.415282 143.67751 
L 218.198533 158.541021 
L 226.618788 143.145135 
L 216.945304 126.680547 
z
" clip-path="url(#pc251fb903a)" style="fill:#26ad81;fill-opacity:0.8;stroke:#26ad81;stroke-opacity:0.25;stroke-width:0.5"/>
    <path d="M 123.668764 215.03055 
L 133.447223 217.657571 
L 142.365846 196.376258 
L 132.596914 194.333035 
z
" clip-path="url(#pc251fb903a)" style="fill:#453781;fill-opacity:0.8;stroke:#453781;stroke-opacity:0.25;stroke-width:0.5"/>
    <path d="M 198.585113 129.949367 
L 208.415282 143.67751 
L 216.945304 126.680547 
L 207.205684 111.492418 
z
" clip-path="url(#pc251fb903a)" style="fill:#58c765;fill-opacity:0.8;stroke:#58c765;stroke-opacity:0.25;stroke-width:0.5"/>
    <path d="M 178.789467 110.93021 
L 188.704011 118.659275 
L 197.390235 99.073412 
L 187.514346 90.714318 
z
" clip-path="url(#pc251fb903a)" style="fill:#c8e020;fill-opacity:0.8;stroke:#c8e020;stroke-opacity:0.25;stroke-width:0.5"/>
    <path d="M 160.047055 137.20748 
L 169.935978 140.607646 
L 178.789467 110.93021 
L 168.878131 107.447962 
z
" clip-path="url(#pc251fb903a)" style="fill:#69cd5b;fill-opacity:0.8;stroke:#69cd5b;stroke-opacity:0.25;stroke-width:0.5"/>
    <path d="M 151.211967 168.817139 
L 161.070203 172.128277 
L 169.935978 140.607646 
L 160.047055 137.20748 
z
" clip-path="url(#pc251fb903a)" style="fill:#1e9b8a;fill-opacity:0.8;stroke:#1e9b8a;stroke-opacity:0.25;stroke-width:0.5"/>
    <path d="M 142.365846 196.376258 
L 152.20786 199.626672 
L 161.070203 172.128277 
L 151.211967 168.817139 
z
" clip-path="url(#pc251fb903a)" style="fill:#31668e;fill-opacity:0.8;stroke:#31668e;stroke-opacity:0.25;stroke-width:0.5"/>
    <path d="M 188.704011 118.659275 
L 198.585113 129.949367 
L 207.205684 111.492418 
L 197.390235 99.073412 
z
" clip-path="url(#pc251fb903a)" style="fill:#95d840;fill-opacity:0.8;stroke:#95d840;stroke-opacity:0.25;stroke-width:0.5"/>
    <path d="M 169.935978 140.607646 
L 179.853916 147.20692 
L 188.704011 118.659275 
L 178.789467 110.93021 
z
" clip-path="url(#pc251fb903a)" style="fill:#5cc863;fill-opacity:0.8;stroke:#5cc863;stroke-opacity:0.25;stroke-width:0.5"/>
    <path d="M 161.070203 172.128277 
L 170.97699 177.526001 
L 179.853916 147.20692 
L 169.935978 140.607646 
z
" clip-path="url(#pc251fb903a)" style="fill:#1f968b;fill-opacity:0.8;stroke:#1f968b;stroke-opacity:0.25;stroke-width:0.5"/>
    <path d="M 199.672146 167.641678 
L 209.555774 179.666634 
L 218.198533 158.541021 
L 208.415282 143.67751 
z
" clip-path="url(#pc251fb903a)" style="fill:#20928c;fill-opacity:0.8;stroke:#20928c;stroke-opacity:0.25;stroke-width:0.5"/>
    <path d="M 133.447223 217.657571 
L 143.296927 220.887704 
L 152.20786 199.626672 
L 142.365846 196.376258 
z
" clip-path="url(#pc251fb903a)" style="fill:#453882;fill-opacity:0.8;stroke:#453882;stroke-opacity:0.25;stroke-width:0.5"/>
    <path d="M 152.20786 199.626672 
L 162.109767 204.063585 
L 170.97699 177.526001 
L 161.070203 172.128277 
z
" clip-path="url(#pc251fb903a)" style="fill:#33638d;fill-opacity:0.8;stroke:#33638d;stroke-opacity:0.25;stroke-width:0.5"/>
    <path d="M 179.853916 147.20692 
L 189.771382 156.496822 
L 198.585113 129.949367 
L 188.704011 118.659275 
z
" clip-path="url(#pc251fb903a)" style="fill:#3fbc73;fill-opacity:0.8;stroke:#3fbc73;stroke-opacity:0.25;stroke-width:0.5"/>
    <path d="M 189.771382 156.496822 
L 199.672146 167.641678 
L 208.415282 143.67751 
L 198.585113 129.949367 
z
" clip-path="url(#pc251fb903a)" style="fill:#23a983;fill-opacity:0.8;stroke:#23a983;stroke-opacity:0.25;stroke-width:0.5"/>
    <path d="M 170.97699 177.526001 
L 180.912031 184.685002 
L 189.771382 156.496822 
L 179.853916 147.20692 
z
" clip-path="url(#pc251fb903a)" style="fill:#228c8d;fill-opacity:0.8;stroke:#228c8d;stroke-opacity:0.25;stroke-width:0.5"/>
    <path d="M 180.912031 184.685002 
L 190.862882 193.068492 
L 199.672146 167.641678 
L 189.771382 156.496822 
z
" clip-path="url(#pc251fb903a)" style="fill:#277e8e;fill-opacity:0.8;stroke:#277e8e;stroke-opacity:0.25;stroke-width:0.5"/>
    <path d="M 162.109767 204.063585 
L 172.059636 209.505928 
L 180.912031 184.685002 
L 170.97699 177.526001 
z
" clip-path="url(#pc251fb903a)" style="fill:#365d8d;fill-opacity:0.8;stroke:#365d8d;stroke-opacity:0.25;stroke-width:0.5"/>
    <path d="M 190.862882 193.068492 
L 200.827087 202.046433 
L 209.555774 179.666634 
L 199.672146 167.641678 
z
" clip-path="url(#pc251fb903a)" style="fill:#2e6d8e;fill-opacity:0.8;stroke:#2e6d8e;stroke-opacity:0.25;stroke-width:0.5"/>
    <path d="M 143.296927 220.887704 
L 153.211647 224.710991 
L 162.109767 204.063585 
L 152.20786 199.626672 
z
" clip-path="url(#pc251fb903a)" style="fill:#453781;fill-opacity:0.8;stroke:#453781;stroke-opacity:0.25;stroke-width:0.5"/>
    <path d="M 172.059636 209.505928 
L 182.049547 215.653883 
L 190.862882 193.068492 
L 180.912031 184.685002 
z
" clip-path="url(#pc251fb903a)" style="fill:#3b528b;fill-opacity:0.8;stroke:#3b528b;stroke-opacity:0.25;stroke-width:0.5"/>
    <path d="M 153.211647 224.710991 
L 163.185497 229.039478 
L 172.059636 209.505928 
L 162.109767 204.063585 
z
" clip-path="url(#pc251fb903a)" style="fill:#46327e;fill-opacity:0.8;stroke:#46327e;stroke-opacity:0.25;stroke-width:0.5"/>
    <path d="M 182.049547 215.653883 
L 192.07705 222.153738 
L 200.827087 202.046433 
L 190.862882 193.068492 
z
" clip-path="url(#pc251fb903a)" style="fill:#404688;fill-opacity:0.8;stroke:#404688;stroke-opacity:0.25;stroke-width:0.5"/>
    <path d="M 163.185497 229.039478 
L 173.214354 233.727136 
L 182.049547 215.653883 
L 172.059636 209.505928 
z
" clip-path="url(#pc251fb903a)" style="fill:#472c7a;fill-opacity:0.8;stroke:#472c7a;stroke-opacity:0.25;stroke-width:0.5"/>
    <path d="M 173.214354 233.727136 
L 183.2967 238.60108 
L 192.07705 222.153738 
L 182.049547 215.653883 
z
" clip-path="url(#pc251fb903a)" style="fill:#482475;fill-opacity:0.8;stroke:#482475;stroke-opacity:0.25;stroke-width:0.5"/>
   </g>
   <g id="legend_1" transform="translate(0.725 0.870)">
    <g id="patch_6">
     <path d="M 147.420659 25.239199 
L 280.855034 25.239199 
Q 282.855034 25.239199 282.855034 23.239199 
L 282.855034 9.561074 
Q 282.855034 7.561074 280.855034 7.561074 
L 147.420659 7.561074 
Q 145.420659 7.561074 145.420659 9.561074 
L 145.420659 23.239199 
Q 145.420659 25.239199 147.420659 25.239199 
z
" style="fill: #ffffff; opacity: 0.8; stroke: #cccccc; stroke-linejoin: miter"/>
    </g>
    <g id="Path3DCollection_2">
     <g>
      <use href="#m5a079813dc" x="159.420659" y="16.534511" style="fill: #ff0000; stroke: #ff0000"/>
     </g>
    </g>
    <g id="text_23">
     <text style="font-size:10.300px;text-anchor:start" x="177.420659" y="19.159511" transform="rotate(-0 177.420659 19.159511)" textLength="100.625" lengthAdjust="spacing">Optimal (0.30, 0.20)</text>
    </g>
   </g>
  </g>
  <g id="patch_7">
   <path d="M 336.950336 279.060403 
L 612.869799 279.060403 
L 612.869799 3.14094 
L 336.950336 3.14094 
z
" style="fill: #ffffff"/>
  </g>
  <g id="pane3d_4">
   <g id="patch_8">
    <path d="M 357.784158 211.027506 
L 448.901776 134.650912 
L 447.635154 24.50221 
L 352.157088 94.177753 
" style="fill: #f2f2f2; opacity: 0.5; stroke: #f2f2f2; stroke-linejoin: miter"/>
   </g>
  </g>
  <g id="pane3d_5">
   <g id="patch_9">
    <path d="M 448.901776 134.650912 
L 595.113041 177.148754 
L 600.330806 63.206106 
L 447.635154 24.50221 
" style="fill: #e6e6e6; opacity: 0.5; stroke: #e6e6e6; stroke-linejoin: miter"/>
   </g>
  </g>
  <g id="pane3d_6">
   <g id="patch_10">
    <path d="M 357.784158 211.027506 
L 512.775241 261.647593 
L 595.113041 177.148754 
L 448.901776 134.650912 
" style="fill: #ececec; opacity: 0.5; stroke: #ececec; stroke-linejoin: miter"/>
   </g>
  </g>
  <g id="grid3d_4">
   <g id="Line3DCollection_4">
    <path d="M 367.171231 214.093324 
L 457.793897 137.2355 
L 456.903241 26.851399 
" style="fill: none; stroke: #b0b0b0; stroke-width: 0.8"/>
    <path d="M 388.86037 221.176996 
L 478.321222 143.201983 
L 478.307558 32.27677 
" style="fill: none; stroke: #b0b0b0; stroke-width: 0.8"/>
    <path d="M 410.879655 228.368495 
L 499.135044 149.251739 
L 500.023563 37.781144 
" style="fill: none; stroke: #b0b0b0; stroke-width: 0.8"/>
    <path d="M 433.236682 235.6703 
L 520.241402 155.386524 
L 522.058113 43.36626 
" style="fill: none; stroke: #b0b0b0; stroke-width: 0.8"/>
    <path d="M 455.939283 243.084969 
L 541.646508 161.608144 
L 544.41827 49.033908 
" style="fill: none; stroke: #b0b0b0; stroke-width: 0.8"/>
    <path d="M 478.995532 250.61514 
L 563.356751 167.918454 
L 567.111303 54.785931 
" style="fill: none; stroke: #b0b0b0; stroke-width: 0.8"/>
    <path d="M 502.413757 258.263532 
L 585.3787 174.319366 
L 590.144702 60.624226 
" style="fill: none; stroke: #b0b0b0; stroke-width: 0.8"/>
   </g>
  </g>
  <g id="grid3d_5">
   <g id="Line3DCollection_5">
    <path d="M 358.759633 89.359517 
L 364.062932 205.764513 
L 518.472379 255.800927 
" style="fill: none; stroke: #b0b0b0; stroke-width: 0.8"/>
    <path d="M 376.476513 76.430545 
L 380.927304 191.628461 
L 533.757339 240.114798 
" style="fill: none; stroke: #b0b0b0; stroke-width: 0.8"/>
    <path d="M 393.638772 63.90631 
L 397.286398 177.915944 
L 548.560466 224.923148 
" style="fill: none; stroke: #b0b0b0; stroke-width: 0.8"/>
    <path d="M 410.272052 51.7681 
L 413.162588 164.608208 
L 562.904191 210.202958 
" style="fill: none; stroke: #b0b0b0; stroke-width: 0.8"/>
    <path d="M 426.400438 39.998338 
L 428.576943 151.687589 
L 576.809571 195.932617 
" style="fill: none; stroke: #b0b0b0; stroke-width: 0.8"/>
    <path d="M 442.046575 28.580499 
L 443.549327 139.13744 
L 590.296399 182.091814 
" style="fill: none; stroke: #b0b0b0; stroke-width: 0.8"/>
   </g>
  </g>
  <g id="grid3d_6">
   <g id="Line3DCollection_6">
    <path d="M 595.361149 171.730723 
L 448.841426 129.402743 
L 357.517017 205.480156 
" style="fill: none; stroke: #b0b0b0; stroke-width: 0.8"/>
    <path d="M 596.270381 151.875417 
L 448.620368 110.17894 
L 356.537668 185.143343 
" style="fill: none; stroke: #b0b0b0; stroke-width: 0.8"/>
    <path d="M 597.193889 131.70835 
L 448.396005 90.667772 
L 355.542353 164.474975 
" style="fill: none; stroke: #b0b0b0; stroke-width: 0.8"/>
    <path d="M 598.132013 111.222119 
L 448.168263 70.862747 
L 354.530678 143.466879 
" style="fill: none; stroke: #b0b0b0; stroke-width: 0.8"/>
    <path d="M 599.085102 90.409088 
L 447.937065 50.757177 
L 353.502235 122.110609 
" style="fill: none; stroke: #b0b0b0; stroke-width: 0.8"/>
    <path d="M 600.053518 69.261375 
L 447.702331 30.344167 
L 352.456606 100.397436 
" style="fill: none; stroke: #b0b0b0; stroke-width: 0.8"/>
   </g>
  </g>
  <g id="axis3d_4">
   <g id="line2d_23">
    <path d="M 357.784158 211.027506 
L 512.775241 261.647593 
" style="fill: none; stroke: #000000; stroke-width: 0.8; stroke-linecap: square"/>
   </g>
   <g id="xtick_20">
    <g id="line2d_24">
     <path d="M 367.960368 213.42405 
L 365.589571 215.434743 
" style="fill: none; stroke: #000000; stroke-width: 0.8; stroke-linecap: square"/>
    </g>
    <g id="text_24">
     <text style="font-size:10.300px;text-anchor:middle" x="359.643176" y="237.400397" transform="rotate(-0 359.643176 237.400397)" textLength="22.125" lengthAdjust="spacing">0.10</text>
    </g>
   </g>
   <g id="xtick_21">
    <g id="line2d_25">
     <path d="M 389.639868 220.497578 
L 387.298003 222.538771 
" style="fill: none; stroke: #000000; stroke-width: 0.8; stroke-linecap: square"/>
    </g>
    <g id="text_25">
     <text style="font-size:10.300px;text-anchor:middle" x="381.353585" y="244.628737" transform="rotate(-0 381.353585 244.628737)" textLength="22.250" lengthAdjust="spacing">0.15</text>
    </g>
   </g>
   <g id="xtick_22">
    <g id="line2d_26">
     <path d="M 411.649128 227.678699 
L 409.337356 229.751092 
" style="fill: none; stroke: #000000; stroke-width: 0.8; stroke-linecap: square"/>
    </g>
    <g id="text_26">
     <text style="font-size:10.300px;text-anchor:middle" x="403.395666" y="251.967505" transform="rotate(-0 403.395666 251.967505)" textLength="22.125" lengthAdjust="spacing">0.20</text>
    </g>
   </g>
   <g id="xtick_23">
    <g id="line2d_27">
     <path d="M 433.995731 234.969887 
L 431.715254 237.074201 
" style="fill: none; stroke: #000000; stroke-width: 0.8; stroke-linecap: square"/>
    </g>
    <g id="text_27">
     <text style="font-size:10.300px;text-anchor:middle" x="425.77708" y="259.419251" transform="rotate(-0 425.77708 259.419251)" textLength="22.250" lengthAdjust="spacing">0.25</text>
    </g>
   </g>
   <g id="xtick_24">
    <g id="line2d_28">
     <path d="M 456.687491 242.373692 
L 454.439557 244.510671 
" style="fill: none; stroke: #000000; stroke-width: 0.8; stroke-linecap: square"/>
    </g>
    <g id="text_28">
     <text style="font-size:10.300px;text-anchor:middle" x="448.505722" y="266.986605" transform="rotate(-0 448.505722 266.986605)" textLength="22.000" lengthAdjust="spacing">0.30</text>
    </g>
   </g>
   <g id="xtick_25">
    <g id="line2d_29">
     <path d="M 479.732469 249.892744 
L 477.518373 252.063154 
" style="fill: none; stroke: #000000; stroke-width: 0.8; stroke-linecap: square"/>
    </g>
    <g id="text_29">
     <text style="font-size:10.300px;text-anchor:middle" x="471.589737" y="274.672278" transform="rotate(-0 471.589737 274.672278)" textLength="22.125" lengthAdjust="spacing">0.35</text>
    </g>
   </g>
   <g id="xtick_26">
    <g id="line2d_30">
     <path d="M 503.138976 257.529755 
L 500.960062 259.734386 
" style="fill: none; stroke: #000000; stroke-width: 0.8; stroke-linecap: square"/>
    </g>
    <g id="text_30">
     <text style="font-size:10.300px;text-anchor:middle" x="495.037524" y="282.479067" transform="rotate(-0 495.037524 282.479067)" textLength="22.000" lengthAdjust="spacing">0.40</text>
    </g>
   </g>
   <g id="text_31">
    <text style="font-size:10.300px;text-anchor:middle" x="416.093357" y="273.554946" transform="rotate(-341.912962 416.093357 273.554946)" textLength="100.500" lengthAdjust="spacing">Duration Coefficient</text>
   </g>
  </g>
  <g id="axis3d_5">
   <g id="line2d_31">
    <path d="M 595.113041 177.148754 
L 512.775241 261.647593 
" style="fill: none; stroke: #000000; stroke-width: 0.8; stroke-linecap: square"/>
   </g>
   <g id="xtick_27">
    <g id="line2d_32">
     <path d="M 517.171166 255.379269 
L 521.078171 256.645335 
" style="fill: none; stroke: #000000; stroke-width: 0.8; stroke-linecap: square"/>
    </g>
    <g id="text_32">
     <text style="font-size:10.300px;text-anchor:middle" x="531.352739" y="276.822372" transform="rotate(-0 531.352739 276.822372)" textLength="22.125" lengthAdjust="spacing">0.05</text>
    </g>
   </g>
   <g id="xtick_28">
    <g id="line2d_33">
     <path d="M 532.470481 239.706534 
L 536.334331 240.932366 
" style="fill: none; stroke: #000000; stroke-width: 0.8; stroke-linecap: square"/>
    </g>
    <g id="text_33">
     <text style="font-size:10.300px;text-anchor:middle" x="546.44" y="260.91225" transform="rotate(-0 546.44 260.91225)" textLength="22.125" lengthAdjust="spacing">0.10</text>
    </g>
   </g>
   <g id="xtick_29">
    <g id="line2d_34">
     <path d="M 547.287711 224.52765 
L 551.109165 225.715136 
" style="fill: none; stroke: #000000; stroke-width: 0.8; stroke-linecap: square"/>
    </g>
    <g id="text_34">
     <text style="font-size:10.300px;text-anchor:middle" x="561.051395" y="245.503949" transform="rotate(-0 561.051395 245.503949)" textLength="22.250" lengthAdjust="spacing">0.15</text>
    </g>
   </g>
   <g id="xtick_30">
    <g id="line2d_35">
     <path d="M 561.645289 209.819636 
L 565.425098 210.970548 
" style="fill: none; stroke: #000000; stroke-width: 0.8; stroke-linecap: square"/>
    </g>
    <g id="text_35">
     <text style="font-size:10.300px;text-anchor:middle" x="575.209087" y="230.574095" transform="rotate(-0 575.209087 230.574095)" textLength="22.125" lengthAdjust="spacing">0.20</text>
    </g>
   </g>
   <g id="xtick_31">
    <g id="line2d_36">
     <path d="M 575.564278 195.560917 
L 579.303182 196.676919 
" style="fill: none; stroke: #000000; stroke-width: 0.8; stroke-linecap: square"/>
    </g>
    <g id="text_36">
     <text style="font-size:10.300px;text-anchor:middle" x="588.933886" y="216.100745" transform="rotate(-0 588.933886 216.100745)" textLength="22.250" lengthAdjust="spacing">0.25</text>
    </g>
   </g>
   <g id="xtick_32">
    <g id="line2d_37">
     <path d="M 589.064471 181.731216 
L 592.763202 182.813872 
" style="fill: none; stroke: #000000; stroke-width: 0.8; stroke-linecap: square"/>
    </g>
    <g id="text_37">
     <text style="font-size:10.300px;text-anchor:middle" x="602.245347" y="202.063275" transform="rotate(-0 602.245347 202.063275)" textLength="22.000" lengthAdjust="spacing">0.30</text>
    </g>
   </g>
   <g id="text_38">
    <text style="font-size:10.300px;text-anchor:middle" x="584.732723" y="247.442268" transform="rotate(-45.742112 584.732723 247.442268)" textLength="79.000" lengthAdjust="spacing">Cost Coefficient</text>
   </g>
  </g>
  <g id="axis3d_6">
   <g id="line2d_38">
    <path d="M 595.113041 177.148754 
L 600.330806 63.206106 
" style="fill: none; stroke: #000000; stroke-width: 0.8; stroke-linecap: square"/>
   </g>
   <g id="xtick_33">
    <g id="line2d_39">
     <path d="M 594.131322 171.375439 
L 597.823733 172.442137 
" style="fill: none; stroke: #000000; stroke-width: 0.8; stroke-linecap: square"/>
    </g>
    <g id="text_39">
     <text style="font-size:10.300px;text-anchor:middle" x="613.649778" y="176.734054" transform="rotate(-0 613.649778 176.734054)" textLength="12.500" lengthAdjust="spacing">80</text>
    </g>
   </g>
   <g id="xtick_34">
    <g id="line2d_40">
     <path d="M 595.030615 151.525306 
L 598.752891 152.57648 
" style="fill: none; stroke: #000000; stroke-width: 0.8; stroke-linecap: square"/>
    </g>
    <g id="text_40">
     <text style="font-size:10.300px;text-anchor:middle" x="614.698401" y="156.916582" transform="rotate(-0 614.698401 156.916582)" textLength="12.625" lengthAdjust="spacing">90</text>
    </g>
   </g>
   <g id="xtick_35">
    <g id="line2d_41">
     <path d="M 595.944022 131.363618 
L 599.696651 132.398647 
" style="fill: none; stroke: #000000; stroke-width: 0.8; stroke-linecap: square"/>
    </g>
    <g id="text_41">
     <text style="font-size:10.300px;text-anchor:middle" x="615.763441" y="136.788858" transform="rotate(-0 615.763441 136.788858)" textLength="18.875" lengthAdjust="spacing">100</text>
    </g>
   </g>
   <g id="xtick_36">
    <g id="line2d_42">
     <path d="M 596.871878 110.882982 
L 600.655358 111.90122 
" style="fill: none; stroke: #000000; stroke-width: 0.8; stroke-linecap: square"/>
    </g>
    <g id="text_42">
     <text style="font-size:10.300px;text-anchor:middle" x="616.845286" y="116.343538" transform="rotate(-0 616.845286 116.343538)" textLength="19.000" lengthAdjust="spacing">110</text>
    </g>
   </g>
   <g id="xtick_37">
    <g id="line2d_43">
     <path d="M 597.81453 90.075769 
L 601.629371 91.076547 
" style="fill: none; stroke: #000000; stroke-width: 0.8; stroke-linecap: square"/>
    </g>
    <g id="text_43">
     <text style="font-size:10.300px;text-anchor:middle" x="617.944338" y="95.573047" transform="rotate(-0 617.944338 95.573047)" textLength="19.000" lengthAdjust="spacing">120</text>
    </g>
   </g>
   <g id="xtick_38">
    <g id="line2d_44">
     <path d="M 598.772335 68.934105 
L 602.61906 69.916728 
" style="fill: none; stroke: #000000; stroke-width: 0.8; stroke-linecap: square"/>
    </g>
    <g id="text_44">
     <text style="font-size:10.300px;text-anchor:middle" x="619.061009" y="74.469563" transform="rotate(-0 619.061009 74.469563)" textLength="18.875" lengthAdjust="spacing">130</text>
    </g>
   </g>
   <g id="text_45">
    <text style="font-size:10.300px;text-anchor:middle" x="640.806583" y="116.141181" transform="rotate(-87.378092 640.806583 116.141181)" textLength="104.625" lengthAdjust="spacing">MAE (Thousand EGP)</text>
   </g>
  </g>
  <g id="axes_2">
   <g id="Path3DCollection_3">
    <g clip-path="url(#pb89fd06d47)">
     <use href="#m5a079813dc" x="508.682688" y="142.357047" style="fill: #ff0000; stroke: #ff0000"/>
    </g>
   </g>
   <g id="Poly3DCollection_2">
    <path d="M 444.08112 135.792415 
L 452.925132 134.420633 
L 461.179542 131.674456 
L 452.369215 131.6323 
z
" clip-path="url(#pb89fd06d47)" style="fill:#2c0594;fill-opacity:0.8;stroke:#2c0594;stroke-opacity:0.25;stroke-width:0.5"/>
    <path d="M 452.925132 134.420633 
L 461.841962 131.793785 
L 470.05731 130.930682 
L 461.179542 131.674456 
z
" clip-path="url(#pb89fd06d47)" style="fill:#3f049c;fill-opacity:0.8;stroke:#3f049c;stroke-opacity:0.25;stroke-width:0.5"/>
    <path d="M 461.841962 131.793785 
L 470.845741 127.923655 
L 479.011512 129.412089 
L 470.05731 130.930682 
z
" clip-path="url(#pb89fd06d47)" style="fill:#5502a4;fill-opacity:0.8;stroke:#5502a4;stroke-opacity:0.25;stroke-width:0.5"/>
    <path d="M 435.640623 140.080497 
L 444.509105 137.29881 
L 452.925132 134.420633 
L 444.08112 135.792415 
z
" clip-path="url(#pb89fd06d47)" style="fill:#3e049c;fill-opacity:0.8;stroke:#3e049c;stroke-opacity:0.25;stroke-width:0.5"/>
    <path d="M 470.845741 127.923655 
L 479.950557 123.034423 
L 488.050641 127.264429 
L 479.011512 129.412089 
z
" clip-path="url(#pb89fd06d47)" style="fill:#6e00a8;fill-opacity:0.8;stroke:#6e00a8;stroke-opacity:0.25;stroke-width:0.5"/>
    <path d="M 444.509105 137.29881 
L 453.452779 132.7888 
L 461.841962 131.793785 
L 452.925132 134.420633 
z
" clip-path="url(#pb89fd06d47)" style="fill:#5601a4;fill-opacity:0.8;stroke:#5601a4;stroke-opacity:0.25;stroke-width:0.5"/>
    <path d="M 427.061758 145.387856 
L 435.949871 141.668925 
L 444.509105 137.29881 
L 435.640623 140.080497 
z
" clip-path="url(#pb89fd06d47)" style="fill:#4b03a1;fill-opacity:0.8;stroke:#4b03a1;stroke-opacity:0.25;stroke-width:0.5"/>
    <path d="M 479.950557 123.034423 
L 489.16655 117.599057 
L 497.180177 124.789306 
L 488.050641 127.264429 
z
" clip-path="url(#pb89fd06d47)" style="fill:#8707a6;fill-opacity:0.8;stroke:#8707a6;stroke-opacity:0.25;stroke-width:0.5"/>
    <path d="M 453.452779 132.7888 
L 462.491013 126.558679 
L 470.845741 127.923655 
L 461.841962 131.793785 
z
" clip-path="url(#pb89fd06d47)" style="fill:#7401a8;fill-opacity:0.8;stroke:#7401a8;stroke-opacity:0.25;stroke-width:0.5"/>
    <path d="M 435.949871 141.668925 
L 444.911118 135.899242 
L 453.452779 132.7888 
L 444.509105 137.29881 
z
" clip-path="url(#pb89fd06d47)" style="fill:#6900a8;fill-opacity:0.8;stroke:#6900a8;stroke-opacity:0.25;stroke-width:0.5"/>
    <path d="M 489.16655 117.599057 
L 498.495534 112.323336 
L 506.399912 122.431891 
L 497.180177 124.789306 
z
" clip-path="url(#pb89fd06d47)" style="fill:#a01a9c;fill-opacity:0.8;stroke:#a01a9c;stroke-opacity:0.25;stroke-width:0.5"/>
    <path d="M 462.491013 126.558679 
L 471.644157 118.906582 
L 479.950557 123.034423 
L 470.845741 127.923655 
z
" clip-path="url(#pb89fd06d47)" style="fill:#9410a2;fill-opacity:0.8;stroke:#9410a2;stroke-opacity:0.25;stroke-width:0.5"/>
    <path d="M 418.366524 152.429909 
L 427.278938 148.62547 
L 435.949871 141.668925 
L 427.061758 145.387856 
z
" clip-path="url(#pb89fd06d47)" style="fill:#5002a2;fill-opacity:0.8;stroke:#5002a2;stroke-opacity:0.25;stroke-width:0.5"/>
    <path d="M 444.911118 135.899242 
L 453.968507 128.082117 
L 462.491013 126.558679 
L 453.452779 132.7888 
z
" clip-path="url(#pb89fd06d47)" style="fill:#8b0aa5;fill-opacity:0.8;stroke:#8b0aa5;stroke-opacity:0.25;stroke-width:0.5"/>
    <path d="M 498.495534 112.323336 
L 507.927603 108.063125 
L 515.702076 120.727335 
L 506.399912 122.431891 
z
" clip-path="url(#pb89fd06d47)" style="fill:#b32c8e;fill-opacity:0.8;stroke:#b32c8e;stroke-opacity:0.25;stroke-width:0.5"/>
    <path d="M 471.644157 118.906582 
L 480.928329 110.474301 
L 489.16655 117.599057 
L 479.950557 123.034423 
z
" clip-path="url(#pb89fd06d47)" style="fill:#b32c8e;fill-opacity:0.8;stroke:#b32c8e;stroke-opacity:0.25;stroke-width:0.5"/>
    <path d="M 427.278938 148.62547 
L 436.258769 142.727464 
L 444.911118 135.899242 
L 435.949871 141.668925 
z
" clip-path="url(#pb89fd06d47)" style="fill:#7100a8;fill-opacity:0.8;stroke:#7100a8;stroke-opacity:0.25;stroke-width:0.5"/>
    <path d="M 409.570708 161.309931 
L 418.521547 158.325441 
L 427.278938 148.62547 
L 418.366524 152.429909 
z
" clip-path="url(#pb89fd06d47)" style="fill:#4c02a1;fill-opacity:0.8;stroke:#4c02a1;stroke-opacity:0.25;stroke-width:0.5"/>
    <path d="M 507.927603 108.063125 
L 517.440339 105.680056 
L 525.071193 120.210473 
L 515.702076 120.727335 
z
" clip-path="url(#pb89fd06d47)" style="fill:#c13b82;fill-opacity:0.8;stroke:#c13b82;stroke-opacity:0.25;stroke-width:0.5"/>
    <path d="M 453.968507 128.082117 
L 463.147419 118.563063 
L 471.644157 118.906582 
L 462.491013 126.558679 
z
" clip-path="url(#pb89fd06d47)" style="fill:#b02991;fill-opacity:0.8;stroke:#b02991;stroke-opacity:0.25;stroke-width:0.5"/>
    <path d="M 480.928329 110.474301 
L 490.349234 102.230247 
L 498.495534 112.323336 
L 489.16655 117.599057 
z
" clip-path="url(#pb89fd06d47)" style="fill:#cd4a76;fill-opacity:0.8;stroke:#cd4a76;stroke-opacity:0.25;stroke-width:0.5"/>
    <path d="M 517.440339 105.680056 
L 527.001707 105.865634 
L 534.486246 121.308114 
L 525.071193 120.210473 
z
" clip-path="url(#pb89fd06d47)" style="fill:#c9447a;fill-opacity:0.8;stroke:#c9447a;stroke-opacity:0.25;stroke-width:0.5"/>
    <path d="M 436.258769 142.727464 
L 445.329681 134.738265 
L 453.968507 128.082117 
L 444.911118 135.899242 
z
" clip-path="url(#pb89fd06d47)" style="fill:#9511a1;fill-opacity:0.8;stroke:#9511a1;stroke-opacity:0.25;stroke-width:0.5"/>
    <path d="M 418.521547 158.325441 
L 427.533118 153.502751 
L 436.258769 142.727464 
L 427.278938 148.62547 
z
" clip-path="url(#pb89fd06d47)" style="fill:#6a00a8;fill-opacity:0.8;stroke:#6a00a8;stroke-opacity:0.25;stroke-width:0.5"/>
    <path d="M 400.671453 171.453726 
L 409.678095 169.887263 
L 418.521547 158.325441 
L 409.570708 161.309931 
z
" clip-path="url(#pb89fd06d47)" style="fill:#41049d;fill-opacity:0.8;stroke:#41049d;stroke-opacity:0.25;stroke-width:0.5"/>
    <path d="M 527.001707 105.865634 
L 536.576424 108.983387 
L 543.924886 124.243811 
L 534.486246 121.308114 
z
" clip-path="url(#pb89fd06d47)" style="fill:#cb4679;fill-opacity:0.8;stroke:#cb4679;stroke-opacity:0.25;stroke-width:0.5"/>
    <path d="M 463.147419 118.563063 
L 472.469624 108.096521 
L 480.928329 110.474301 
L 471.644157 118.906582 
z
" clip-path="url(#pb89fd06d47)" style="fill:#cf4c74;fill-opacity:0.8;stroke:#cf4c74;stroke-opacity:0.25;stroke-width:0.5"/>
    <path d="M 536.576424 108.983387 
L 546.134118 114.980791 
L 553.368566 128.985215 
L 543.924886 124.243811 
z
" clip-path="url(#pb89fd06d47)" style="fill:#c7427c;fill-opacity:0.8;stroke:#c7427c;stroke-opacity:0.25;stroke-width:0.5"/>
    <path d="M 490.349234 102.230247 
L 499.896951 95.359175 
L 507.927603 108.063125 
L 498.495534 112.323336 
z
" clip-path="url(#pb89fd06d47)" style="fill:#e16462;fill-opacity:0.8;stroke:#e16462;stroke-opacity:0.25;stroke-width:0.5"/>
    <path d="M 445.329681 134.738265 
L 454.518941 125.009383 
L 463.147419 118.563063 
L 453.968507 128.082117 
z
" clip-path="url(#pb89fd06d47)" style="fill:#bb3488;fill-opacity:0.8;stroke:#bb3488;stroke-opacity:0.25;stroke-width:0.5"/>
    <path d="M 546.134118 114.980791 
L 555.656632 123.402143 
L 562.806977 135.25181 
L 553.368566 128.985215 
z
" clip-path="url(#pb89fd06d47)" style="fill:#bd3786;fill-opacity:0.8;stroke:#bd3786;stroke-opacity:0.25;stroke-width:0.5"/>
    <path d="M 427.533118 153.502751 
L 436.626531 146.848298 
L 445.329681 134.738265 
L 436.258769 142.727464 
z
" clip-path="url(#pb89fd06d47)" style="fill:#8f0da4;fill-opacity:0.8;stroke:#8f0da4;stroke-opacity:0.25;stroke-width:0.5"/>
    <path d="M 409.678095 169.887263 
L 418.740588 166.931316 
L 427.533118 153.502751 
L 418.521547 158.325441 
z
" clip-path="url(#pb89fd06d47)" style="fill:#5b01a5;fill-opacity:0.8;stroke:#5b01a5;stroke-opacity:0.25;stroke-width:0.5"/>
    <path d="M 555.656632 123.402143 
L 565.141992 133.497779 
L 572.240327 142.580375 
L 562.806977 135.25181 
z
" clip-path="url(#pb89fd06d47)" style="fill:#ad2793;fill-opacity:0.8;stroke:#ad2793;stroke-opacity:0.25;stroke-width:0.5"/>
    <path d="M 565.141992 133.497779 
L 574.603916 144.391581 
L 581.678816 150.426344 
L 572.240327 142.580375 
z
" clip-path="url(#pb89fd06d47)" style="fill:#9814a0;fill-opacity:0.8;stroke:#9814a0;stroke-opacity:0.25;stroke-width:0.5"/>
    <path d="M 391.647352 181.972726 
L 400.72252 181.950758 
L 409.678095 169.887263 
L 400.671453 171.453726 
z
" clip-path="url(#pb89fd06d47)" style="fill:#2f0596;fill-opacity:0.8;stroke:#2f0596;stroke-opacity:0.25;stroke-width:0.5"/>
    <path d="M 499.896951 95.359175 
L 509.544032 91.062651 
L 517.440339 105.680056 
L 507.927603 108.063125 
z
" clip-path="url(#pb89fd06d47)" style="fill:#ed7a52;fill-opacity:0.8;stroke:#ed7a52;stroke-opacity:0.25;stroke-width:0.5"/>
    <path d="M 472.469624 108.096521 
L 481.945804 97.829678 
L 490.349234 102.230247 
L 480.928329 110.474301 
z
" clip-path="url(#pb89fd06d47)" style="fill:#e97158;fill-opacity:0.8;stroke:#e97158;stroke-opacity:0.25;stroke-width:0.5"/>
    <path d="M 418.740588 166.931316 
L 427.875336 162.596745 
L 436.626531 146.848298 
L 427.533118 153.502751 
z
" clip-path="url(#pb89fd06d47)" style="fill:#7a02a8;fill-opacity:0.8;stroke:#7a02a8;stroke-opacity:0.25;stroke-width:0.5"/>
    <path d="M 400.72252 181.950758 
L 409.851694 181.023972 
L 418.740588 166.931316 
L 409.678095 169.887263 
z
" clip-path="url(#pb89fd06d47)" style="fill:#44039e;fill-opacity:0.8;stroke:#44039e;stroke-opacity:0.25;stroke-width:0.5"/>
    <path d="M 436.626531 146.848298 
L 445.827072 138.67641 
L 454.518941 125.009383 
L 445.329681 134.738265 
z
" clip-path="url(#pb89fd06d47)" style="fill:#b42e8d;fill-opacity:0.8;stroke:#b42e8d;stroke-opacity:0.25;stroke-width:0.5"/>
    <path d="M 454.518941 125.009383 
L 463.851505 114.310059 
L 472.469624 108.096521 
L 463.147419 118.563063 
z
" clip-path="url(#pb89fd06d47)" style="fill:#da5b69;fill-opacity:0.8;stroke:#da5b69;stroke-opacity:0.25;stroke-width:0.5"/>
    <path d="M 509.544032 91.062651 
L 519.248665 90.310543 
L 527.001707 105.865634 
L 517.440339 105.680056 
z
" clip-path="url(#pb89fd06d47)" style="fill:#f48948;fill-opacity:0.8;stroke:#f48948;stroke-opacity:0.25;stroke-width:0.5"/>
    <path d="M 382.470452 192.147195 
L 391.618164 193.417987 
L 400.72252 181.950758 
L 391.647352 181.972726 
z
" clip-path="url(#pb89fd06d47)" style="fill:#1d068e;fill-opacity:0.8;stroke:#1d068e;stroke-opacity:0.25;stroke-width:0.5"/>
    <path d="M 409.851694 181.023972 
L 419.046038 179.203843 
L 427.875336 162.596745 
L 418.740588 166.931316 
z
" clip-path="url(#pb89fd06d47)" style="fill:#5b01a5;fill-opacity:0.8;stroke:#5b01a5;stroke-opacity:0.25;stroke-width:0.5"/>
    <path d="M 519.248665 90.310543 
L 528.962941 93.614638 
L 536.576424 108.983387 
L 527.001707 105.865634 
z
" clip-path="url(#pb89fd06d47)" style="fill:#f68d45;fill-opacity:0.8;stroke:#f68d45;stroke-opacity:0.25;stroke-width:0.5"/>
    <path d="M 481.945804 97.829678 
L 491.56878 89.174563 
L 499.896951 95.359175 
L 490.349234 102.230247 
z
" clip-path="url(#pb89fd06d47)" style="fill:#f9973f;fill-opacity:0.8;stroke:#f9973f;stroke-opacity:0.25;stroke-width:0.5"/>
    <path d="M 427.875336 162.596745 
L 437.102666 157.129159 
L 445.827072 138.67641 
L 436.626531 146.848298 
z
" clip-path="url(#pb89fd06d47)" style="fill:#9c179e;fill-opacity:0.8;stroke:#9c179e;stroke-opacity:0.25;stroke-width:0.5"/>
    <path d="M 391.618164 193.417987 
L 400.820581 194.182727 
L 409.851694 181.023972 
L 400.72252 181.950758 
z
" clip-path="url(#pb89fd06d47)" style="fill:#2c0594;fill-opacity:0.8;stroke:#2c0594;stroke-opacity:0.25;stroke-width:0.5"/>
    <path d="M 528.962941 93.614638 
L 538.644041 100.901181 
L 546.134118 114.980791 
L 536.576424 108.983387 
z
" clip-path="url(#pb89fd06d47)" style="fill:#f3854b;fill-opacity:0.8;stroke:#f3854b;stroke-opacity:0.25;stroke-width:0.5"/>
    <path d="M 445.827072 138.67641 
L 455.159126 129.667549 
L 463.851505 114.310059 
L 454.518941 125.009383 
z
" clip-path="url(#pb89fd06d47)" style="fill:#d35171;fill-opacity:0.8;stroke:#d35171;stroke-opacity:0.25;stroke-width:0.5"/>
    <path d="M 557.818903 124.449219 
L 567.322341 138.440611 
L 574.603916 144.391581 
L 565.141992 133.497779 
z
" clip-path="url(#pb89fd06d47)" style="fill:#c5407e;fill-opacity:0.8;stroke:#c5407e;stroke-opacity:0.25;stroke-width:0.5"/>
    <path d="M 463.851505 114.310059 
L 473.342262 103.811372 
L 481.945804 97.829678 
L 472.469624 108.096521 
z
" clip-path="url(#pb89fd06d47)" style="fill:#f2844b;fill-opacity:0.8;stroke:#f2844b;stroke-opacity:0.25;stroke-width:0.5"/>
    <path d="M 538.644041 100.901181 
L 548.264639 111.529412 
L 555.656632 123.402143 
L 546.134118 114.980791 
z
" clip-path="url(#pb89fd06d47)" style="fill:#ea7457;fill-opacity:0.8;stroke:#ea7457;stroke-opacity:0.25;stroke-width:0.5"/>
    <path d="M 548.264639 111.529412 
L 557.818903 124.449219 
L 565.141992 133.497779 
L 555.656632 123.402143 
z
" clip-path="url(#pb89fd06d47)" style="fill:#da5b69;fill-opacity:0.8;stroke:#da5b69;stroke-opacity:0.25;stroke-width:0.5"/>
    <path d="M 373.119431 201.681338 
L 382.33642 203.83958 
L 391.618164 193.417987 
L 382.470452 192.147195 
z
" clip-path="url(#pb89fd06d47)" style="fill:#0d0887;fill-opacity:0.8;stroke:#0d0887;stroke-opacity:0.25;stroke-width:0.5"/>
    <path d="M 419.046038 179.203843 
L 428.319799 176.656688 
L 437.102666 157.129159 
L 427.875336 162.596745 
z
" clip-path="url(#pb89fd06d47)" style="fill:#7501a8;fill-opacity:0.8;stroke:#7501a8;stroke-opacity:0.25;stroke-width:0.5"/>
    <path d="M 400.820581 194.182727 
L 410.084425 194.450062 
L 419.046038 179.203843 
L 409.851694 181.023972 
z
" clip-path="url(#pb89fd06d47)" style="fill:#3c049b;fill-opacity:0.8;stroke:#3c049b;stroke-opacity:0.25;stroke-width:0.5"/>
    <path d="M 491.56878 89.174563 
L 501.31033 83.570526 
L 509.544032 91.062651 
L 499.896951 95.359175 
z
" clip-path="url(#pb89fd06d47)" style="fill:#feb82c;fill-opacity:0.8;stroke:#feb82c;stroke-opacity:0.25;stroke-width:0.5"/>
    <path d="M 437.102666 157.129159 
L 446.443038 151.050249 
L 455.159126 129.667549 
L 445.827072 138.67641 
z
" clip-path="url(#pb89fd06d47)" style="fill:#bb3488;fill-opacity:0.8;stroke:#bb3488;stroke-opacity:0.25;stroke-width:0.5"/>
    <path d="M 382.33642 203.83958 
L 391.610066 205.75821 
L 400.820581 194.182727 
L 391.618164 193.417987 
z
" clip-path="url(#pb89fd06d47)" style="fill:#16078a;fill-opacity:0.8;stroke:#16078a;stroke-opacity:0.25;stroke-width:0.5"/>
    <path d="M 410.084425 194.450062 
L 419.418477 194.31706 
L 428.319799 176.656688 
L 419.046038 179.203843 
z
" clip-path="url(#pb89fd06d47)" style="fill:#4e02a2;fill-opacity:0.8;stroke:#4e02a2;stroke-opacity:0.25;stroke-width:0.5"/>
    <path d="M 455.159126 129.667549 
L 464.639261 120.851608 
L 473.342262 103.811372 
L 463.851505 114.310059 
z
" clip-path="url(#pb89fd06d47)" style="fill:#ec7754;fill-opacity:0.8;stroke:#ec7754;stroke-opacity:0.25;stroke-width:0.5"/>
    <path d="M 428.319799 176.656688 
L 437.687846 173.728718 
L 446.443038 151.050249 
L 437.102666 157.129159 
z
" clip-path="url(#pb89fd06d47)" style="fill:#910ea3;fill-opacity:0.8;stroke:#910ea3;stroke-opacity:0.25;stroke-width:0.5"/>
    <path d="M 473.342262 103.811372 
L 482.988624 94.956106 
L 491.56878 89.174563 
L 481.945804 97.829678 
z
" clip-path="url(#pb89fd06d47)" style="fill:#fdb130;fill-opacity:0.8;stroke:#fdb130;stroke-opacity:0.25;stroke-width:0.5"/>
    <path d="M 391.610066 205.75821 
L 400.944042 207.442273 
L 410.084425 194.450062 
L 400.820581 194.182727 
z
" clip-path="url(#pb89fd06d47)" style="fill:#220690;fill-opacity:0.8;stroke:#220690;stroke-opacity:0.25;stroke-width:0.5"/>
    <path d="M 501.31033 83.570526 
L 511.123936 82.183956 
L 519.248665 90.310543 
L 509.544032 91.062651 
z
" clip-path="url(#pb89fd06d47)" style="fill:#fcd025;fill-opacity:0.8;stroke:#fcd025;stroke-opacity:0.25;stroke-width:0.5"/>
    <path d="M 446.443038 151.050249 
L 455.911717 145.141432 
L 464.639261 120.851608 
L 455.159126 129.667549 
z
" clip-path="url(#pb89fd06d47)" style="fill:#d45270;fill-opacity:0.8;stroke:#d45270;stroke-opacity:0.25;stroke-width:0.5"/>
    <path d="M 419.418477 194.31706 
L 428.832191 193.982476 
L 437.687846 173.728718 
L 428.319799 176.656688 
z
" clip-path="url(#pb89fd06d47)" style="fill:#6100a7;fill-opacity:0.8;stroke:#6100a7;stroke-opacity:0.25;stroke-width:0.5"/>
    <path d="M 400.944042 207.442273 
L 410.343199 208.94055 
L 419.418477 194.31706 
L 410.084425 194.450062 
z
" clip-path="url(#pb89fd06d47)" style="fill:#2e0595;fill-opacity:0.8;stroke:#2e0595;stroke-opacity:0.25;stroke-width:0.5"/>
    <path d="M 511.123936 82.183956 
L 520.95387 85.631967 
L 528.962941 93.614638 
L 519.248665 90.310543 
z
" clip-path="url(#pb89fd06d47)" style="fill:#fbd524;fill-opacity:0.8;stroke:#fbd524;stroke-opacity:0.25;stroke-width:0.5"/>
    <path d="M 550.114017 120.873795 
L 559.688632 137.006216 
L 567.322341 138.440611 
L 557.818903 124.449219 
z
" clip-path="url(#pb89fd06d47)" style="fill:#e26561;fill-opacity:0.8;stroke:#e26561;stroke-opacity:0.25;stroke-width:0.5"/>
    <path d="M 437.687846 173.728718 
L 447.162097 170.932681 
L 455.911717 145.141432 
L 446.443038 151.050249 
z
" clip-path="url(#pb89fd06d47)" style="fill:#aa2395;fill-opacity:0.8;stroke:#aa2395;stroke-opacity:0.25;stroke-width:0.5"/>
    <path d="M 520.95387 85.631967 
L 530.748294 93.825835 
L 538.644041 100.901181 
L 528.962941 93.614638 
z
" clip-path="url(#pb89fd06d47)" style="fill:#fdca26;fill-opacity:0.8;stroke:#fdca26;stroke-opacity:0.25;stroke-width:0.5"/>
    <path d="M 540.471956 105.993692 
L 550.114017 120.873795 
L 557.818903 124.449219 
L 548.264639 111.529412 
z
" clip-path="url(#pb89fd06d47)" style="fill:#f58b47;fill-opacity:0.8;stroke:#f58b47;stroke-opacity:0.25;stroke-width:0.5"/>
    <path d="M 464.639261 120.851608 
L 474.26935 113.491607 
L 482.988624 94.956106 
L 473.342262 103.811372 
z
" clip-path="url(#pb89fd06d47)" style="fill:#fb9f3a;fill-opacity:0.8;stroke:#fb9f3a;stroke-opacity:0.25;stroke-width:0.5"/>
    <path d="M 482.988624 94.956106 
L 492.766417 89.216121 
L 501.31033 83.570526 
L 491.56878 89.174563 
z
" clip-path="url(#pb89fd06d47)" style="fill:#fad824;fill-opacity:0.8;stroke:#fad824;stroke-opacity:0.25;stroke-width:0.5"/>
    <path d="M 530.748294 93.825835 
L 540.471956 105.993692 
L 548.264639 111.529412 
L 538.644041 100.901181 
z
" clip-path="url(#pb89fd06d47)" style="fill:#fdae32;fill-opacity:0.8;stroke:#fdae32;stroke-opacity:0.25;stroke-width:0.5"/>
    <path d="M 428.832191 193.982476 
L 438.333608 193.737922 
L 447.162097 170.932681 
L 437.687846 173.728718 
z
" clip-path="url(#pb89fd06d47)" style="fill:#7401a8;fill-opacity:0.8;stroke:#7401a8;stroke-opacity:0.25;stroke-width:0.5"/>
    <path d="M 410.343199 208.94055 
L 419.812889 210.351771 
L 428.832191 193.982476 
L 419.418477 194.31706 
z
" clip-path="url(#pb89fd06d47)" style="fill:#38049a;fill-opacity:0.8;stroke:#38049a;stroke-opacity:0.25;stroke-width:0.5"/>
    <path d="M 455.911717 145.141432 
L 465.513286 140.353136 
L 474.26935 113.491607 
L 464.639261 120.851608 
z
" clip-path="url(#pb89fd06d47)" style="fill:#e76f5a;fill-opacity:0.8;stroke:#e76f5a;stroke-opacity:0.25;stroke-width:0.5"/>
    <path d="M 447.162097 170.932681 
L 456.747749 168.886643 
L 465.513286 140.353136 
L 455.911717 145.141432 
z
" clip-path="url(#pb89fd06d47)" style="fill:#be3885;fill-opacity:0.8;stroke:#be3885;stroke-opacity:0.25;stroke-width:0.5"/>
    <path d="M 492.766417 89.216121 
L 502.631685 87.784897 
L 511.123936 82.183956 
L 501.31033 83.570526 
z
" clip-path="url(#pb89fd06d47)" style="fill:#f2f227;fill-opacity:0.8;stroke:#f2f227;stroke-opacity:0.25;stroke-width:0.5"/>
    <path d="M 419.812889 210.351771 
L 429.357907 211.819858 
L 438.333608 193.737922 
L 428.832191 193.982476 
z
" clip-path="url(#pb89fd06d47)" style="fill:#44039e;fill-opacity:0.8;stroke:#44039e;stroke-opacity:0.25;stroke-width:0.5"/>
    <path d="M 438.333608 193.737922 
L 447.927098 193.93229 
L 456.747749 168.886643 
L 447.162097 170.932681 
z
" clip-path="url(#pb89fd06d47)" style="fill:#8305a7;fill-opacity:0.8;stroke:#8305a7;stroke-opacity:0.25;stroke-width:0.5"/>
    <path d="M 474.26935 113.491607 
L 484.032317 108.871102 
L 492.766417 89.216121 
L 482.988624 94.956106 
z
" clip-path="url(#pb89fd06d47)" style="fill:#fdc328;fill-opacity:0.8;stroke:#fdc328;stroke-opacity:0.25;stroke-width:0.5"/>
    <path d="M 541.960069 127.260413 
L 551.633554 143.725001 
L 559.688632 137.006216 
L 550.114017 120.873795 
z
" clip-path="url(#pb89fd06d47)" style="fill:#eb7655;fill-opacity:0.8;stroke:#eb7655;stroke-opacity:0.25;stroke-width:0.5"/>
    <path d="M 465.513286 140.353136 
L 475.238008 137.644626 
L 484.032317 108.871102 
L 474.26935 113.491607 
z
" clip-path="url(#pb89fd06d47)" style="fill:#f48849;fill-opacity:0.8;stroke:#f48849;stroke-opacity:0.25;stroke-width:0.5"/>
    <path d="M 502.631685 87.784897 
L 512.529111 91.294183 
L 520.95387 85.631967 
L 511.123936 82.183956 
z
" clip-path="url(#pb89fd06d47)" style="fill:#f0f921;fill-opacity:0.8;stroke:#f0f921;stroke-opacity:0.25;stroke-width:0.5"/>
    <path d="M 456.747749 168.886643 
L 466.440605 168.209741 
L 475.238008 137.644626 
L 465.513286 140.353136 
z
" clip-path="url(#pb89fd06d47)" style="fill:#cc4778;fill-opacity:0.8;stroke:#cc4778;stroke-opacity:0.25;stroke-width:0.5"/>
    <path d="M 429.357907 211.819858 
L 438.981318 213.516129 
L 447.927098 193.93229 
L 438.333608 193.737922 
z
" clip-path="url(#pb89fd06d47)" style="fill:#4e02a2;fill-opacity:0.8;stroke:#4e02a2;stroke-opacity:0.25;stroke-width:0.5"/>
    <path d="M 532.220449 112.072284 
L 541.960069 127.260413 
L 550.114017 120.873795 
L 540.471956 105.993692 
z
" clip-path="url(#pb89fd06d47)" style="fill:#fba238;fill-opacity:0.8;stroke:#fba238;stroke-opacity:0.25;stroke-width:0.5"/>
    <path d="M 447.927098 193.93229 
L 457.611679 194.9129 
L 466.440605 168.209741 
L 456.747749 168.886643 
z
" clip-path="url(#pb89fd06d47)" style="fill:#8f0da4;fill-opacity:0.8;stroke:#8f0da4;stroke-opacity:0.25;stroke-width:0.5"/>
    <path d="M 512.529111 91.294183 
L 522.405 99.653278 
L 530.748294 93.825835 
L 520.95387 85.631967 
z
" clip-path="url(#pb89fd06d47)" style="fill:#f5eb27;fill-opacity:0.8;stroke:#f5eb27;stroke-opacity:0.25;stroke-width:0.5"/>
    <path d="M 522.405 99.653278 
L 532.220449 112.072284 
L 540.471956 105.993692 
L 530.748294 93.825835 
z
" clip-path="url(#pb89fd06d47)" style="fill:#fdcb26;fill-opacity:0.8;stroke:#fdcb26;stroke-opacity:0.25;stroke-width:0.5"/>
    <path d="M 484.032317 108.871102 
L 493.892896 108.027827 
L 502.631685 87.784897 
L 492.766417 89.216121 
z
" clip-path="url(#pb89fd06d47)" style="fill:#fada24;fill-opacity:0.8;stroke:#fada24;stroke-opacity:0.25;stroke-width:0.5"/>
    <path d="M 438.981318 213.516129 
L 448.683529 215.610415 
L 457.611679 194.9129 
L 447.927098 193.93229 
z
" clip-path="url(#pb89fd06d47)" style="fill:#5502a4;fill-opacity:0.8;stroke:#5502a4;stroke-opacity:0.25;stroke-width:0.5"/>
    <path d="M 475.238008 137.644626 
L 485.061821 137.787346 
L 493.892896 108.027827 
L 484.032317 108.871102 
z
" clip-path="url(#pb89fd06d47)" style="fill:#f9983e;fill-opacity:0.8;stroke:#f9983e;stroke-opacity:0.25;stroke-width:0.5"/>
    <path d="M 466.440605 168.209741 
L 476.226732 169.397004 
L 485.061821 137.787346 
L 475.238008 137.644626 
z
" clip-path="url(#pb89fd06d47)" style="fill:#d35171;fill-opacity:0.8;stroke:#d35171;stroke-opacity:0.25;stroke-width:0.5"/>
    <path d="M 457.611679 194.9129 
L 467.380611 196.956124 
L 476.226732 169.397004 
L 466.440605 168.209741 
z
" clip-path="url(#pb89fd06d47)" style="fill:#9814a0;fill-opacity:0.8;stroke:#9814a0;stroke-opacity:0.25;stroke-width:0.5"/>
    <path d="M 493.892896 108.027827 
L 503.804232 111.510075 
L 512.529111 91.294183 
L 502.631685 87.784897 
z
" clip-path="url(#pb89fd06d47)" style="fill:#f8e125;fill-opacity:0.8;stroke:#f8e125;stroke-opacity:0.25;stroke-width:0.5"/>
    <path d="M 533.430047 144.257376 
L 543.213298 159.120886 
L 551.633554 143.725001 
L 541.960069 127.260413 
z
" clip-path="url(#pb89fd06d47)" style="fill:#e56a5d;fill-opacity:0.8;stroke:#e56a5d;stroke-opacity:0.25;stroke-width:0.5"/>
    <path d="M 448.683529 215.610415 
L 458.461988 218.237436 
L 467.380611 196.956124 
L 457.611679 194.9129 
z
" clip-path="url(#pb89fd06d47)" style="fill:#5901a5;fill-opacity:0.8;stroke:#5901a5;stroke-opacity:0.25;stroke-width:0.5"/>
    <path d="M 523.599878 130.529233 
L 533.430047 144.257376 
L 541.960069 127.260413 
L 532.220449 112.072284 
z
" clip-path="url(#pb89fd06d47)" style="fill:#f79143;fill-opacity:0.8;stroke:#f79143;stroke-opacity:0.25;stroke-width:0.5"/>
    <path d="M 503.804232 111.510075 
L 513.718776 119.239141 
L 522.405 99.653278 
L 512.529111 91.294183 
z
" clip-path="url(#pb89fd06d47)" style="fill:#fbd524;fill-opacity:0.8;stroke:#fbd524;stroke-opacity:0.25;stroke-width:0.5"/>
    <path d="M 485.061821 137.787346 
L 494.950743 141.187512 
L 503.804232 111.510075 
L 493.892896 108.027827 
z
" clip-path="url(#pb89fd06d47)" style="fill:#fa9c3c;fill-opacity:0.8;stroke:#fa9c3c;stroke-opacity:0.25;stroke-width:0.5"/>
    <path d="M 476.226732 169.397004 
L 486.084968 172.708142 
L 494.950743 141.187512 
L 485.061821 137.787346 
z
" clip-path="url(#pb89fd06d47)" style="fill:#d5546e;fill-opacity:0.8;stroke:#d5546e;stroke-opacity:0.25;stroke-width:0.5"/>
    <path d="M 467.380611 196.956124 
L 477.222625 200.206537 
L 486.084968 172.708142 
L 476.226732 169.397004 
z
" clip-path="url(#pb89fd06d47)" style="fill:#99159f;fill-opacity:0.8;stroke:#99159f;stroke-opacity:0.25;stroke-width:0.5"/>
    <path d="M 513.718776 119.239141 
L 523.599878 130.529233 
L 532.220449 112.072284 
L 522.405 99.653278 
z
" clip-path="url(#pb89fd06d47)" style="fill:#feb72d;fill-opacity:0.8;stroke:#feb72d;stroke-opacity:0.25;stroke-width:0.5"/>
    <path d="M 494.950743 141.187512 
L 504.868681 147.786786 
L 513.718776 119.239141 
L 503.804232 111.510075 
z
" clip-path="url(#pb89fd06d47)" style="fill:#f89441;fill-opacity:0.8;stroke:#f89441;stroke-opacity:0.25;stroke-width:0.5"/>
    <path d="M 486.084968 172.708142 
L 495.991755 178.105866 
L 504.868681 147.786786 
L 494.950743 141.187512 
z
" clip-path="url(#pb89fd06d47)" style="fill:#d14e72;fill-opacity:0.8;stroke:#d14e72;stroke-opacity:0.25;stroke-width:0.5"/>
    <path d="M 524.686912 168.221544 
L 534.570539 180.2465 
L 543.213298 159.120886 
L 533.430047 144.257376 
z
" clip-path="url(#pb89fd06d47)" style="fill:#cc4977;fill-opacity:0.8;stroke:#cc4977;stroke-opacity:0.25;stroke-width:0.5"/>
    <path d="M 458.461988 218.237436 
L 468.311692 221.46757 
L 477.222625 200.206537 
L 467.380611 196.956124 
z
" clip-path="url(#pb89fd06d47)" style="fill:#5b01a5;fill-opacity:0.8;stroke:#5b01a5;stroke-opacity:0.25;stroke-width:0.5"/>
    <path d="M 477.222625 200.206537 
L 487.124532 204.643451 
L 495.991755 178.105866 
L 486.084968 172.708142 
z
" clip-path="url(#pb89fd06d47)" style="fill:#9511a1;fill-opacity:0.8;stroke:#9511a1;stroke-opacity:0.25;stroke-width:0.5"/>
    <path d="M 504.868681 147.786786 
L 514.786147 157.076688 
L 523.599878 130.529233 
L 513.718776 119.239141 
z
" clip-path="url(#pb89fd06d47)" style="fill:#f0804e;fill-opacity:0.8;stroke:#f0804e;stroke-opacity:0.25;stroke-width:0.5"/>
    <path d="M 514.786147 157.076688 
L 524.686912 168.221544 
L 533.430047 144.257376 
L 523.599878 130.529233 
z
" clip-path="url(#pb89fd06d47)" style="fill:#e26561;fill-opacity:0.8;stroke:#e26561;stroke-opacity:0.25;stroke-width:0.5"/>
    <path d="M 495.991755 178.105866 
L 505.926796 185.264867 
L 514.786147 157.076688 
L 504.868681 147.786786 
z
" clip-path="url(#pb89fd06d47)" style="fill:#c7427c;fill-opacity:0.8;stroke:#c7427c;stroke-opacity:0.25;stroke-width:0.5"/>
    <path d="M 505.926796 185.264867 
L 515.877647 193.648358 
L 524.686912 168.221544 
L 514.786147 157.076688 
z
" clip-path="url(#pb89fd06d47)" style="fill:#b7318a;fill-opacity:0.8;stroke:#b7318a;stroke-opacity:0.25;stroke-width:0.5"/>
    <path d="M 487.124532 204.643451 
L 497.074401 210.085794 
L 505.926796 185.264867 
L 495.991755 178.105866 
z
" clip-path="url(#pb89fd06d47)" style="fill:#8d0ba5;fill-opacity:0.8;stroke:#8d0ba5;stroke-opacity:0.25;stroke-width:0.5"/>
    <path d="M 515.877647 193.648358 
L 525.841852 202.626299 
L 534.570539 180.2465 
L 524.686912 168.221544 
z
" clip-path="url(#pb89fd06d47)" style="fill:#a21d9a;fill-opacity:0.8;stroke:#a21d9a;stroke-opacity:0.25;stroke-width:0.5"/>
    <path d="M 468.311692 221.46757 
L 478.226412 225.290857 
L 487.124532 204.643451 
L 477.222625 200.206537 
z
" clip-path="url(#pb89fd06d47)" style="fill:#5901a5;fill-opacity:0.8;stroke:#5901a5;stroke-opacity:0.25;stroke-width:0.5"/>
    <path d="M 497.074401 210.085794 
L 507.064312 216.233749 
L 515.877647 193.648358 
L 505.926796 185.264867 
z
" clip-path="url(#pb89fd06d47)" style="fill:#7e03a8;fill-opacity:0.8;stroke:#7e03a8;stroke-opacity:0.25;stroke-width:0.5"/>
    <path d="M 478.226412 225.290857 
L 488.200262 229.619343 
L 497.074401 210.085794 
L 487.124532 204.643451 
z
" clip-path="url(#pb89fd06d47)" style="fill:#5302a3;fill-opacity:0.8;stroke:#5302a3;stroke-opacity:0.25;stroke-width:0.5"/>
    <path d="M 507.064312 216.233749 
L 517.091815 222.733604 
L 525.841852 202.626299 
L 515.877647 193.648358 
z
" clip-path="url(#pb89fd06d47)" style="fill:#6e00a8;fill-opacity:0.8;stroke:#6e00a8;stroke-opacity:0.25;stroke-width:0.5"/>
    <path d="M 488.200262 229.619343 
L 498.229119 234.307002 
L 507.064312 216.233749 
L 497.074401 210.085794 
z
" clip-path="url(#pb89fd06d47)" style="fill:#4b03a1;fill-opacity:0.8;stroke:#4b03a1;stroke-opacity:0.25;stroke-width:0.5"/>
    <path d="M 498.229119 234.307002 
L 508.311465 239.180946 
L 517.091815 222.733604 
L 507.064312 216.233749 
z
" clip-path="url(#pb89fd06d47)" style="fill:#41049d;fill-opacity:0.8;stroke:#41049d;stroke-opacity:0.25;stroke-width:0.5"/>
   </g>
   <g id="legend_2" transform="translate(0.193 0.773)">
    <g id="patch_11">
     <path d="M 472.435424 25.819065 
L 605.869799 25.819065 
Q 607.869799 25.819065 607.869799 23.819065 
L 607.869799 10.14094 
Q 607.869799 8.14094 605.869799 8.14094 
L 472.435424 8.14094 
Q 470.435424 8.14094 470.435424 10.14094 
L 470.435424 23.819065 
Q 470.435424 25.819065 472.435424 25.819065 
z
" style="fill: #ffffff; opacity: 0.8; stroke: #cccccc; stroke-linejoin: miter"/>
    </g>
    <g id="Path3DCollection_4">
     <g>
      <use href="#m5a079813dc" x="484.435424" y="17.114377" style="fill: #ff0000; stroke: #ff0000"/>
     </g>
    </g>
    <g id="text_46">
     <text style="font-size:10.300px;text-anchor:start" x="502.435424" y="19.739377" transform="rotate(-0 502.435424 19.739377)" textLength="100.625" lengthAdjust="spacing">Optimal (0.30, 0.20)</text>
    </g>
   </g>
  </g>
  <g id="text_47">
   <text style="font-size:12.360px;text-anchor:middle" x="158.303356" y="311.291275" transform="rotate(-0 158.303356 311.291275)" textLength="293.375" lengthAdjust="spacing">Response Surface: Duration MAE vs. Coefficients</text>
  </g>
  <g id="text_48">
   <text style="font-size:12.360px;text-anchor:middle" x="516.660403" y="313.127517" transform="rotate(-0 516.660403 313.127517)" textLength="267.750" lengthAdjust="spacing">Response Surface: Cost MAE vs. Coefficients</text>
  </g>
 </g>
 <defs>
  <clipPath id="pc251fb903a">
   <rect x="11.93557" y="2.561074" width="275.919463" height="275.919463"/>
  </clipPath>
  <clipPath id="pb89fd06d47">
   <rect x="336.950336" y="3.14094" width="275.919463" height="275.919463"/>
  </clipPath>
 </defs>

</svg>
<div class="b" style="left:0;top:2px;width:685px;height:1px;background:#ececec"></div>
<div class="b" style="left:0;top:1px;width:685px;height:1px;background:#a3a3a3"></div>
<div class="b" style="left:0;top:0;width:685px;height:1px;background:#999"></div>
<div class="b" style="left:0;top:328px;width:685px;height:1px;background:#bdbdbd"></div>
<div class="b" style="left:0;top:329px;width:685px;height:1px;background:#636363"></div>
<div class="b" style="left:1px;top:0;width:1px;height:330px;background:#aaa"></div>
<div class="b" style="left:0;top:0;width:1px;height:330px;background:#6e6e6e"></div>
<div class="b" style="left:682px;top:0;width:1px;height:330px;background:#d5d5d5"></div>
<div class="b" style="left:683px;top:0;width:2px;height:330px;background:#999"></div>
</body></html>
